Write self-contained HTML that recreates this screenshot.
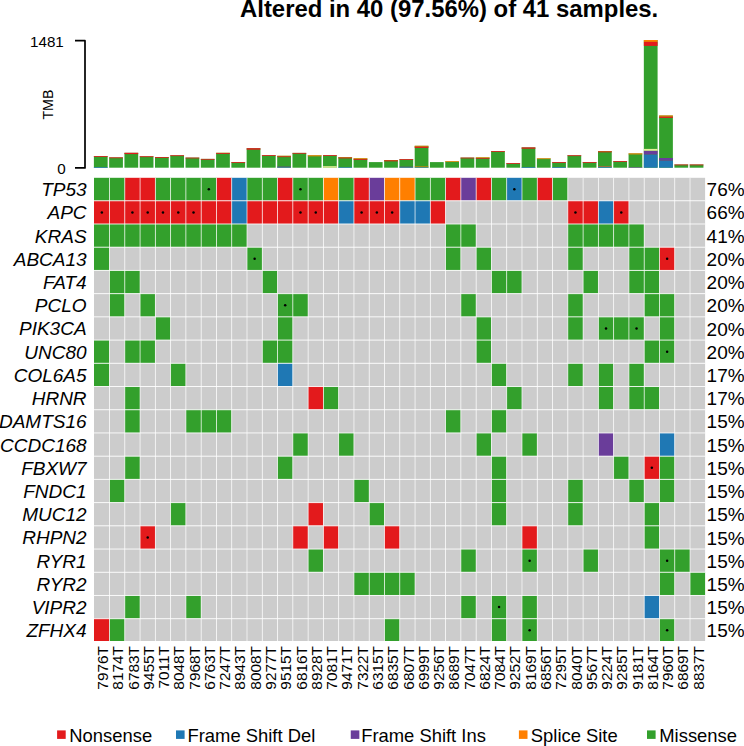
<!DOCTYPE html><html><head><meta charset="utf-8"><style>html,body{margin:0;padding:0;background:#fff;}body{width:744px;height:746px;overflow:hidden;position:relative;}svg{display:block;}text{font-family:"Liberation Sans",sans-serif;}</style></head><body>
<svg width="744" height="746" viewBox="0 0 744 746">
<text x="240" y="16.8" font-size="23.9" font-weight="bold" fill="#000">Altered in 40 (97.56%) of 41 samples.</text>
<path d="M75,40.7 H85 V167.9 H75" fill="none" stroke="#000" stroke-width="1.7" stroke-linejoin="round"/>
<text x="63.8" y="47.0" font-size="15.2" text-anchor="end">1481</text>
<text x="65.8" y="173.6" font-size="15.2" text-anchor="end">0</text>
<text transform="translate(53,104.6) rotate(-90)" font-size="14.2" text-anchor="middle">TMB</text>
<rect x="93.89" y="156.10" width="13.75" height="11.60" fill="#33a02c"/>
<rect x="93.89" y="156.10" width="13.75" height="0.80" fill="#e31a1c"/>
<rect x="93.89" y="167.00" width="13.75" height="0.70" fill="#1f78b4"/>
<rect x="109.16" y="157.40" width="13.75" height="10.30" fill="#33a02c"/>
<rect x="109.16" y="157.40" width="13.75" height="0.80" fill="#e31a1c"/>
<rect x="124.44" y="152.80" width="13.75" height="14.90" fill="#33a02c"/>
<rect x="124.44" y="152.80" width="13.75" height="1.30" fill="#e31a1c"/>
<rect x="139.71" y="156.30" width="13.75" height="11.40" fill="#33a02c"/>
<rect x="139.71" y="156.30" width="13.75" height="0.80" fill="#e31a1c"/>
<rect x="154.99" y="157.00" width="13.75" height="10.70" fill="#33a02c"/>
<rect x="154.99" y="157.00" width="13.75" height="0.80" fill="#e31a1c"/>
<rect x="170.27" y="155.30" width="13.75" height="12.40" fill="#33a02c"/>
<rect x="170.27" y="155.30" width="13.75" height="0.80" fill="#e31a1c"/>
<rect x="185.54" y="157.60" width="13.75" height="10.10" fill="#33a02c"/>
<rect x="185.54" y="157.60" width="13.75" height="0.80" fill="#e31a1c"/>
<rect x="200.82" y="158.90" width="13.75" height="8.80" fill="#33a02c"/>
<rect x="200.82" y="158.90" width="13.75" height="0.80" fill="#e31a1c"/>
<rect x="216.10" y="152.80" width="13.75" height="14.90" fill="#33a02c"/>
<rect x="216.10" y="152.80" width="13.75" height="0.40" fill="#ff7f00"/>
<rect x="216.10" y="153.20" width="13.75" height="0.80" fill="#e31a1c"/>
<rect x="231.37" y="162.10" width="13.75" height="5.60" fill="#33a02c"/>
<rect x="231.37" y="162.10" width="13.75" height="0.80" fill="#e31a1c"/>
<rect x="246.65" y="148.20" width="13.75" height="19.50" fill="#33a02c"/>
<rect x="246.65" y="148.20" width="13.75" height="1.50" fill="#e31a1c"/>
<rect x="261.93" y="155.20" width="13.75" height="12.50" fill="#33a02c"/>
<rect x="261.93" y="155.20" width="13.75" height="0.80" fill="#e31a1c"/>
<rect x="277.20" y="155.80" width="13.75" height="11.90" fill="#33a02c"/>
<rect x="277.20" y="155.80" width="13.75" height="0.60" fill="#ff7f00"/>
<rect x="277.20" y="156.40" width="13.75" height="0.70" fill="#e31a1c"/>
<rect x="277.20" y="167.20" width="13.75" height="0.50" fill="#1f78b4"/>
<rect x="277.20" y="166.60" width="13.75" height="0.60" fill="#6a3d9a"/>
<rect x="292.48" y="152.90" width="13.75" height="14.80" fill="#33a02c"/>
<rect x="292.48" y="152.90" width="13.75" height="0.80" fill="#e31a1c"/>
<rect x="307.76" y="155.30" width="13.75" height="12.40" fill="#33a02c"/>
<rect x="307.76" y="155.30" width="13.75" height="1.00" fill="#ff7f00"/>
<rect x="323.03" y="155.20" width="13.75" height="12.50" fill="#33a02c"/>
<rect x="323.03" y="155.20" width="13.75" height="0.80" fill="#e31a1c"/>
<rect x="323.03" y="166.20" width="13.75" height="1.50" fill="#e6ef9c"/>
<rect x="338.31" y="157.10" width="13.75" height="10.60" fill="#33a02c"/>
<rect x="338.31" y="157.10" width="13.75" height="0.50" fill="#ff7f00"/>
<rect x="338.31" y="157.60" width="13.75" height="0.80" fill="#e31a1c"/>
<rect x="338.31" y="167.10" width="13.75" height="0.60" fill="#1f78b4"/>
<rect x="353.59" y="158.30" width="13.75" height="9.40" fill="#33a02c"/>
<rect x="353.59" y="158.30" width="13.75" height="0.70" fill="#ff7f00"/>
<rect x="353.59" y="159.00" width="13.75" height="0.80" fill="#e31a1c"/>
<rect x="368.86" y="162.10" width="13.75" height="5.60" fill="#33a02c"/>
<rect x="384.14" y="160.00" width="13.75" height="7.70" fill="#33a02c"/>
<rect x="384.14" y="160.00" width="13.75" height="0.40" fill="#ff7f00"/>
<rect x="384.14" y="160.40" width="13.75" height="0.90" fill="#e31a1c"/>
<rect x="399.42" y="159.20" width="13.75" height="8.50" fill="#33a02c"/>
<rect x="399.42" y="159.20" width="13.75" height="0.80" fill="#e31a1c"/>
<rect x="399.42" y="167.20" width="13.75" height="0.50" fill="#1f78b4"/>
<rect x="399.42" y="166.70" width="13.75" height="0.50" fill="#6a3d9a"/>
<rect x="414.69" y="145.80" width="13.75" height="21.90" fill="#33a02c"/>
<rect x="414.69" y="145.80" width="13.75" height="0.90" fill="#ff7f00"/>
<rect x="414.69" y="146.70" width="13.75" height="1.20" fill="#e31a1c"/>
<rect x="414.69" y="167.10" width="13.75" height="0.60" fill="#1f78b4"/>
<rect x="414.69" y="166.50" width="13.75" height="0.60" fill="#ff7f00"/>
<rect x="429.97" y="162.10" width="13.75" height="5.60" fill="#33a02c"/>
<rect x="445.25" y="161.30" width="13.75" height="6.40" fill="#33a02c"/>
<rect x="445.25" y="161.30" width="13.75" height="0.70" fill="#ff7f00"/>
<rect x="460.52" y="157.60" width="13.75" height="10.10" fill="#33a02c"/>
<rect x="460.52" y="157.60" width="13.75" height="0.80" fill="#e31a1c"/>
<rect x="475.80" y="157.40" width="13.75" height="10.30" fill="#33a02c"/>
<rect x="475.80" y="157.40" width="13.75" height="0.60" fill="#ff7f00"/>
<rect x="475.80" y="158.00" width="13.75" height="0.70" fill="#e31a1c"/>
<rect x="491.08" y="151.10" width="13.75" height="16.60" fill="#33a02c"/>
<rect x="491.08" y="151.10" width="13.75" height="0.80" fill="#e31a1c"/>
<rect x="506.35" y="163.20" width="13.75" height="4.50" fill="#33a02c"/>
<rect x="506.35" y="163.20" width="13.75" height="0.80" fill="#e31a1c"/>
<rect x="521.63" y="147.40" width="13.75" height="20.30" fill="#33a02c"/>
<rect x="521.63" y="147.40" width="13.75" height="1.30" fill="#e31a1c"/>
<rect x="521.63" y="167.00" width="13.75" height="0.70" fill="#1f78b4"/>
<rect x="536.91" y="158.40" width="13.75" height="9.30" fill="#33a02c"/>
<rect x="536.91" y="158.40" width="13.75" height="0.70" fill="#ff7f00"/>
<rect x="552.18" y="162.10" width="13.75" height="5.60" fill="#33a02c"/>
<rect x="552.18" y="162.10" width="13.75" height="0.80" fill="#e31a1c"/>
<rect x="552.18" y="167.00" width="13.75" height="0.70" fill="#1f78b4"/>
<rect x="567.46" y="155.30" width="13.75" height="12.40" fill="#33a02c"/>
<rect x="567.46" y="155.30" width="13.75" height="0.80" fill="#e31a1c"/>
<rect x="582.74" y="162.10" width="13.75" height="5.60" fill="#33a02c"/>
<rect x="582.74" y="162.10" width="13.75" height="0.80" fill="#e31a1c"/>
<rect x="598.01" y="151.00" width="13.75" height="16.70" fill="#33a02c"/>
<rect x="598.01" y="151.00" width="13.75" height="0.50" fill="#ff7f00"/>
<rect x="598.01" y="151.50" width="13.75" height="0.80" fill="#e31a1c"/>
<rect x="598.01" y="167.00" width="13.75" height="0.70" fill="#1f78b4"/>
<rect x="598.01" y="166.50" width="13.75" height="0.50" fill="#6a3d9a"/>
<rect x="598.01" y="166.10" width="13.75" height="0.40" fill="#ff7f00"/>
<rect x="613.29" y="161.10" width="13.75" height="6.60" fill="#33a02c"/>
<rect x="613.29" y="161.10" width="13.75" height="0.80" fill="#e31a1c"/>
<rect x="628.57" y="153.40" width="13.75" height="14.30" fill="#33a02c"/>
<rect x="628.57" y="153.40" width="13.75" height="1.00" fill="#ff7f00"/>
<rect x="628.57" y="167.20" width="13.75" height="0.50" fill="#6a3d9a"/>
<rect x="643.84" y="40.00" width="13.75" height="127.70" fill="#33a02c"/>
<rect x="643.84" y="40.00" width="13.75" height="1.90" fill="#ff7f00"/>
<rect x="643.84" y="41.90" width="13.75" height="4.00" fill="#e31a1c"/>
<rect x="643.84" y="154.50" width="13.75" height="13.20" fill="#1f78b4"/>
<rect x="643.84" y="150.75" width="13.75" height="3.75" fill="#6a3d9a"/>
<rect x="643.84" y="148.90" width="13.75" height="1.85" fill="#e6ef9c"/>
<rect x="659.12" y="115.50" width="13.75" height="52.20" fill="#33a02c"/>
<rect x="659.12" y="115.50" width="13.75" height="1.20" fill="#ff7f00"/>
<rect x="659.12" y="116.70" width="13.75" height="1.20" fill="#e31a1c"/>
<rect x="659.12" y="160.70" width="13.75" height="7.00" fill="#1f78b4"/>
<rect x="659.12" y="158.00" width="13.75" height="2.70" fill="#6a3d9a"/>
<rect x="674.40" y="164.50" width="13.75" height="3.20" fill="#33a02c"/>
<rect x="674.40" y="164.50" width="13.75" height="0.80" fill="#e31a1c"/>
<rect x="689.67" y="164.50" width="13.75" height="3.20" fill="#33a02c"/>
<rect x="689.67" y="164.50" width="13.75" height="0.80" fill="#e31a1c"/>
<rect x="94.00" y="177.80" width="15.51" height="22.97" fill="#33a02c"/>
<rect x="109.51" y="177.80" width="15.28" height="22.97" fill="#33a02c"/>
<rect x="124.79" y="177.80" width="15.28" height="22.97" fill="#e31a1c"/>
<rect x="140.06" y="177.80" width="15.28" height="22.97" fill="#e31a1c"/>
<rect x="155.34" y="177.80" width="15.28" height="22.97" fill="#33a02c"/>
<rect x="170.62" y="177.80" width="15.28" height="22.97" fill="#33a02c"/>
<rect x="185.89" y="177.80" width="15.28" height="22.97" fill="#33a02c"/>
<rect x="201.17" y="177.80" width="15.28" height="22.97" fill="#33a02c"/>
<rect x="216.45" y="177.80" width="15.28" height="22.97" fill="#e31a1c"/>
<rect x="231.72" y="177.80" width="15.28" height="22.97" fill="#1f78b4"/>
<rect x="247.00" y="177.80" width="15.28" height="22.97" fill="#33a02c"/>
<rect x="262.28" y="177.80" width="15.28" height="22.97" fill="#33a02c"/>
<rect x="277.55" y="177.80" width="15.28" height="22.97" fill="#e31a1c"/>
<rect x="292.83" y="177.80" width="15.28" height="22.97" fill="#33a02c"/>
<rect x="308.11" y="177.80" width="15.28" height="22.97" fill="#33a02c"/>
<rect x="323.38" y="177.80" width="15.28" height="22.97" fill="#ff7f00"/>
<rect x="338.66" y="177.80" width="15.28" height="22.97" fill="#33a02c"/>
<rect x="353.94" y="177.80" width="15.28" height="22.97" fill="#e31a1c"/>
<rect x="369.21" y="177.80" width="15.28" height="22.97" fill="#6a3d9a"/>
<rect x="384.49" y="177.80" width="15.28" height="22.97" fill="#ff7f00"/>
<rect x="399.77" y="177.80" width="15.28" height="22.97" fill="#ff7f00"/>
<rect x="415.04" y="177.80" width="15.28" height="22.97" fill="#33a02c"/>
<rect x="430.32" y="177.80" width="15.28" height="22.97" fill="#33a02c"/>
<rect x="445.60" y="177.80" width="15.28" height="22.97" fill="#e31a1c"/>
<rect x="460.87" y="177.80" width="15.28" height="22.97" fill="#6a3d9a"/>
<rect x="476.15" y="177.80" width="15.28" height="22.97" fill="#e31a1c"/>
<rect x="491.43" y="177.80" width="15.28" height="22.97" fill="#33a02c"/>
<rect x="506.70" y="177.80" width="15.28" height="22.97" fill="#1f78b4"/>
<rect x="521.98" y="177.80" width="15.28" height="22.97" fill="#33a02c"/>
<rect x="537.26" y="177.80" width="15.28" height="22.97" fill="#e31a1c"/>
<rect x="552.53" y="177.80" width="15.28" height="22.97" fill="#33a02c"/>
<rect x="567.81" y="177.80" width="15.28" height="22.97" fill="#cccccc"/>
<rect x="583.09" y="177.80" width="15.28" height="22.97" fill="#cccccc"/>
<rect x="598.36" y="177.80" width="15.28" height="22.97" fill="#cccccc"/>
<rect x="613.64" y="177.80" width="15.28" height="22.97" fill="#cccccc"/>
<rect x="628.92" y="177.80" width="15.28" height="22.97" fill="#cccccc"/>
<rect x="644.19" y="177.80" width="15.28" height="22.97" fill="#cccccc"/>
<rect x="659.47" y="177.80" width="15.28" height="22.97" fill="#cccccc"/>
<rect x="674.75" y="177.80" width="15.28" height="22.97" fill="#cccccc"/>
<rect x="690.02" y="177.80" width="15.08" height="22.97" fill="#cccccc"/>
<rect x="94.00" y="200.77" width="15.51" height="23.22" fill="#e31a1c"/>
<rect x="109.51" y="200.77" width="15.28" height="23.22" fill="#e31a1c"/>
<rect x="124.79" y="200.77" width="15.28" height="23.22" fill="#e31a1c"/>
<rect x="140.06" y="200.77" width="15.28" height="23.22" fill="#e31a1c"/>
<rect x="155.34" y="200.77" width="15.28" height="23.22" fill="#e31a1c"/>
<rect x="170.62" y="200.77" width="15.28" height="23.22" fill="#e31a1c"/>
<rect x="185.89" y="200.77" width="15.28" height="23.22" fill="#e31a1c"/>
<rect x="201.17" y="200.77" width="15.28" height="23.22" fill="#e31a1c"/>
<rect x="216.45" y="200.77" width="15.28" height="23.22" fill="#e31a1c"/>
<rect x="231.72" y="200.77" width="15.28" height="23.22" fill="#1f78b4"/>
<rect x="247.00" y="200.77" width="15.28" height="23.22" fill="#e31a1c"/>
<rect x="262.28" y="200.77" width="15.28" height="23.22" fill="#e31a1c"/>
<rect x="277.55" y="200.77" width="15.28" height="23.22" fill="#e31a1c"/>
<rect x="292.83" y="200.77" width="15.28" height="23.22" fill="#e31a1c"/>
<rect x="308.11" y="200.77" width="15.28" height="23.22" fill="#e31a1c"/>
<rect x="323.38" y="200.77" width="15.28" height="23.22" fill="#e31a1c"/>
<rect x="338.66" y="200.77" width="15.28" height="23.22" fill="#1f78b4"/>
<rect x="353.94" y="200.77" width="15.28" height="23.22" fill="#e31a1c"/>
<rect x="369.21" y="200.77" width="15.28" height="23.22" fill="#e31a1c"/>
<rect x="384.49" y="200.77" width="15.28" height="23.22" fill="#e31a1c"/>
<rect x="399.77" y="200.77" width="15.28" height="23.22" fill="#1f78b4"/>
<rect x="415.04" y="200.77" width="15.28" height="23.22" fill="#1f78b4"/>
<rect x="430.32" y="200.77" width="15.28" height="23.22" fill="#e31a1c"/>
<rect x="445.60" y="200.77" width="15.28" height="23.22" fill="#cccccc"/>
<rect x="460.87" y="200.77" width="15.28" height="23.22" fill="#cccccc"/>
<rect x="476.15" y="200.77" width="15.28" height="23.22" fill="#cccccc"/>
<rect x="491.43" y="200.77" width="15.28" height="23.22" fill="#cccccc"/>
<rect x="506.70" y="200.77" width="15.28" height="23.22" fill="#cccccc"/>
<rect x="521.98" y="200.77" width="15.28" height="23.22" fill="#cccccc"/>
<rect x="537.26" y="200.77" width="15.28" height="23.22" fill="#cccccc"/>
<rect x="552.53" y="200.77" width="15.28" height="23.22" fill="#cccccc"/>
<rect x="567.81" y="200.77" width="15.28" height="23.22" fill="#e31a1c"/>
<rect x="583.09" y="200.77" width="15.28" height="23.22" fill="#e31a1c"/>
<rect x="598.36" y="200.77" width="15.28" height="23.22" fill="#1f78b4"/>
<rect x="613.64" y="200.77" width="15.28" height="23.22" fill="#e31a1c"/>
<rect x="628.92" y="200.77" width="15.28" height="23.22" fill="#cccccc"/>
<rect x="644.19" y="200.77" width="15.28" height="23.22" fill="#cccccc"/>
<rect x="659.47" y="200.77" width="15.28" height="23.22" fill="#cccccc"/>
<rect x="674.75" y="200.77" width="15.28" height="23.22" fill="#cccccc"/>
<rect x="690.02" y="200.77" width="15.08" height="23.22" fill="#cccccc"/>
<rect x="94.00" y="223.99" width="15.51" height="23.22" fill="#33a02c"/>
<rect x="109.51" y="223.99" width="15.28" height="23.22" fill="#33a02c"/>
<rect x="124.79" y="223.99" width="15.28" height="23.22" fill="#33a02c"/>
<rect x="140.06" y="223.99" width="15.28" height="23.22" fill="#33a02c"/>
<rect x="155.34" y="223.99" width="15.28" height="23.22" fill="#33a02c"/>
<rect x="170.62" y="223.99" width="15.28" height="23.22" fill="#33a02c"/>
<rect x="185.89" y="223.99" width="15.28" height="23.22" fill="#33a02c"/>
<rect x="201.17" y="223.99" width="15.28" height="23.22" fill="#33a02c"/>
<rect x="216.45" y="223.99" width="15.28" height="23.22" fill="#33a02c"/>
<rect x="231.72" y="223.99" width="15.28" height="23.22" fill="#33a02c"/>
<rect x="247.00" y="223.99" width="15.28" height="23.22" fill="#cccccc"/>
<rect x="262.28" y="223.99" width="15.28" height="23.22" fill="#cccccc"/>
<rect x="277.55" y="223.99" width="15.28" height="23.22" fill="#cccccc"/>
<rect x="292.83" y="223.99" width="15.28" height="23.22" fill="#cccccc"/>
<rect x="308.11" y="223.99" width="15.28" height="23.22" fill="#cccccc"/>
<rect x="323.38" y="223.99" width="15.28" height="23.22" fill="#cccccc"/>
<rect x="338.66" y="223.99" width="15.28" height="23.22" fill="#cccccc"/>
<rect x="353.94" y="223.99" width="15.28" height="23.22" fill="#cccccc"/>
<rect x="369.21" y="223.99" width="15.28" height="23.22" fill="#cccccc"/>
<rect x="384.49" y="223.99" width="15.28" height="23.22" fill="#cccccc"/>
<rect x="399.77" y="223.99" width="15.28" height="23.22" fill="#cccccc"/>
<rect x="415.04" y="223.99" width="15.28" height="23.22" fill="#cccccc"/>
<rect x="430.32" y="223.99" width="15.28" height="23.22" fill="#cccccc"/>
<rect x="445.60" y="223.99" width="15.28" height="23.22" fill="#33a02c"/>
<rect x="460.87" y="223.99" width="15.28" height="23.22" fill="#33a02c"/>
<rect x="476.15" y="223.99" width="15.28" height="23.22" fill="#cccccc"/>
<rect x="491.43" y="223.99" width="15.28" height="23.22" fill="#cccccc"/>
<rect x="506.70" y="223.99" width="15.28" height="23.22" fill="#cccccc"/>
<rect x="521.98" y="223.99" width="15.28" height="23.22" fill="#cccccc"/>
<rect x="537.26" y="223.99" width="15.28" height="23.22" fill="#cccccc"/>
<rect x="552.53" y="223.99" width="15.28" height="23.22" fill="#cccccc"/>
<rect x="567.81" y="223.99" width="15.28" height="23.22" fill="#33a02c"/>
<rect x="583.09" y="223.99" width="15.28" height="23.22" fill="#33a02c"/>
<rect x="598.36" y="223.99" width="15.28" height="23.22" fill="#33a02c"/>
<rect x="613.64" y="223.99" width="15.28" height="23.22" fill="#33a02c"/>
<rect x="628.92" y="223.99" width="15.28" height="23.22" fill="#33a02c"/>
<rect x="644.19" y="223.99" width="15.28" height="23.22" fill="#cccccc"/>
<rect x="659.47" y="223.99" width="15.28" height="23.22" fill="#cccccc"/>
<rect x="674.75" y="223.99" width="15.28" height="23.22" fill="#cccccc"/>
<rect x="690.02" y="223.99" width="15.08" height="23.22" fill="#cccccc"/>
<rect x="94.00" y="247.20" width="15.51" height="23.22" fill="#33a02c"/>
<rect x="109.51" y="247.20" width="15.28" height="23.22" fill="#cccccc"/>
<rect x="124.79" y="247.20" width="15.28" height="23.22" fill="#cccccc"/>
<rect x="140.06" y="247.20" width="15.28" height="23.22" fill="#cccccc"/>
<rect x="155.34" y="247.20" width="15.28" height="23.22" fill="#cccccc"/>
<rect x="170.62" y="247.20" width="15.28" height="23.22" fill="#cccccc"/>
<rect x="185.89" y="247.20" width="15.28" height="23.22" fill="#cccccc"/>
<rect x="201.17" y="247.20" width="15.28" height="23.22" fill="#cccccc"/>
<rect x="216.45" y="247.20" width="15.28" height="23.22" fill="#cccccc"/>
<rect x="231.72" y="247.20" width="15.28" height="23.22" fill="#cccccc"/>
<rect x="247.00" y="247.20" width="15.28" height="23.22" fill="#33a02c"/>
<rect x="262.28" y="247.20" width="15.28" height="23.22" fill="#cccccc"/>
<rect x="277.55" y="247.20" width="15.28" height="23.22" fill="#cccccc"/>
<rect x="292.83" y="247.20" width="15.28" height="23.22" fill="#cccccc"/>
<rect x="308.11" y="247.20" width="15.28" height="23.22" fill="#cccccc"/>
<rect x="323.38" y="247.20" width="15.28" height="23.22" fill="#cccccc"/>
<rect x="338.66" y="247.20" width="15.28" height="23.22" fill="#cccccc"/>
<rect x="353.94" y="247.20" width="15.28" height="23.22" fill="#cccccc"/>
<rect x="369.21" y="247.20" width="15.28" height="23.22" fill="#cccccc"/>
<rect x="384.49" y="247.20" width="15.28" height="23.22" fill="#cccccc"/>
<rect x="399.77" y="247.20" width="15.28" height="23.22" fill="#cccccc"/>
<rect x="415.04" y="247.20" width="15.28" height="23.22" fill="#cccccc"/>
<rect x="430.32" y="247.20" width="15.28" height="23.22" fill="#cccccc"/>
<rect x="445.60" y="247.20" width="15.28" height="23.22" fill="#33a02c"/>
<rect x="460.87" y="247.20" width="15.28" height="23.22" fill="#cccccc"/>
<rect x="476.15" y="247.20" width="15.28" height="23.22" fill="#33a02c"/>
<rect x="491.43" y="247.20" width="15.28" height="23.22" fill="#cccccc"/>
<rect x="506.70" y="247.20" width="15.28" height="23.22" fill="#cccccc"/>
<rect x="521.98" y="247.20" width="15.28" height="23.22" fill="#cccccc"/>
<rect x="537.26" y="247.20" width="15.28" height="23.22" fill="#cccccc"/>
<rect x="552.53" y="247.20" width="15.28" height="23.22" fill="#cccccc"/>
<rect x="567.81" y="247.20" width="15.28" height="23.22" fill="#33a02c"/>
<rect x="583.09" y="247.20" width="15.28" height="23.22" fill="#cccccc"/>
<rect x="598.36" y="247.20" width="15.28" height="23.22" fill="#cccccc"/>
<rect x="613.64" y="247.20" width="15.28" height="23.22" fill="#cccccc"/>
<rect x="628.92" y="247.20" width="15.28" height="23.22" fill="#33a02c"/>
<rect x="644.19" y="247.20" width="15.28" height="23.22" fill="#33a02c"/>
<rect x="659.47" y="247.20" width="15.28" height="23.22" fill="#e31a1c"/>
<rect x="674.75" y="247.20" width="15.28" height="23.22" fill="#cccccc"/>
<rect x="690.02" y="247.20" width="15.08" height="23.22" fill="#cccccc"/>
<rect x="94.00" y="270.42" width="15.51" height="23.22" fill="#cccccc"/>
<rect x="109.51" y="270.42" width="15.28" height="23.22" fill="#33a02c"/>
<rect x="124.79" y="270.42" width="15.28" height="23.22" fill="#33a02c"/>
<rect x="140.06" y="270.42" width="15.28" height="23.22" fill="#cccccc"/>
<rect x="155.34" y="270.42" width="15.28" height="23.22" fill="#cccccc"/>
<rect x="170.62" y="270.42" width="15.28" height="23.22" fill="#cccccc"/>
<rect x="185.89" y="270.42" width="15.28" height="23.22" fill="#cccccc"/>
<rect x="201.17" y="270.42" width="15.28" height="23.22" fill="#cccccc"/>
<rect x="216.45" y="270.42" width="15.28" height="23.22" fill="#cccccc"/>
<rect x="231.72" y="270.42" width="15.28" height="23.22" fill="#cccccc"/>
<rect x="247.00" y="270.42" width="15.28" height="23.22" fill="#cccccc"/>
<rect x="262.28" y="270.42" width="15.28" height="23.22" fill="#33a02c"/>
<rect x="277.55" y="270.42" width="15.28" height="23.22" fill="#cccccc"/>
<rect x="292.83" y="270.42" width="15.28" height="23.22" fill="#cccccc"/>
<rect x="308.11" y="270.42" width="15.28" height="23.22" fill="#cccccc"/>
<rect x="323.38" y="270.42" width="15.28" height="23.22" fill="#cccccc"/>
<rect x="338.66" y="270.42" width="15.28" height="23.22" fill="#cccccc"/>
<rect x="353.94" y="270.42" width="15.28" height="23.22" fill="#cccccc"/>
<rect x="369.21" y="270.42" width="15.28" height="23.22" fill="#cccccc"/>
<rect x="384.49" y="270.42" width="15.28" height="23.22" fill="#cccccc"/>
<rect x="399.77" y="270.42" width="15.28" height="23.22" fill="#cccccc"/>
<rect x="415.04" y="270.42" width="15.28" height="23.22" fill="#cccccc"/>
<rect x="430.32" y="270.42" width="15.28" height="23.22" fill="#cccccc"/>
<rect x="445.60" y="270.42" width="15.28" height="23.22" fill="#cccccc"/>
<rect x="460.87" y="270.42" width="15.28" height="23.22" fill="#cccccc"/>
<rect x="476.15" y="270.42" width="15.28" height="23.22" fill="#cccccc"/>
<rect x="491.43" y="270.42" width="15.28" height="23.22" fill="#33a02c"/>
<rect x="506.70" y="270.42" width="15.28" height="23.22" fill="#33a02c"/>
<rect x="521.98" y="270.42" width="15.28" height="23.22" fill="#cccccc"/>
<rect x="537.26" y="270.42" width="15.28" height="23.22" fill="#cccccc"/>
<rect x="552.53" y="270.42" width="15.28" height="23.22" fill="#cccccc"/>
<rect x="567.81" y="270.42" width="15.28" height="23.22" fill="#cccccc"/>
<rect x="583.09" y="270.42" width="15.28" height="23.22" fill="#33a02c"/>
<rect x="598.36" y="270.42" width="15.28" height="23.22" fill="#cccccc"/>
<rect x="613.64" y="270.42" width="15.28" height="23.22" fill="#cccccc"/>
<rect x="628.92" y="270.42" width="15.28" height="23.22" fill="#33a02c"/>
<rect x="644.19" y="270.42" width="15.28" height="23.22" fill="#33a02c"/>
<rect x="659.47" y="270.42" width="15.28" height="23.22" fill="#cccccc"/>
<rect x="674.75" y="270.42" width="15.28" height="23.22" fill="#cccccc"/>
<rect x="690.02" y="270.42" width="15.08" height="23.22" fill="#cccccc"/>
<rect x="94.00" y="293.64" width="15.51" height="23.22" fill="#cccccc"/>
<rect x="109.51" y="293.64" width="15.28" height="23.22" fill="#33a02c"/>
<rect x="124.79" y="293.64" width="15.28" height="23.22" fill="#cccccc"/>
<rect x="140.06" y="293.64" width="15.28" height="23.22" fill="#33a02c"/>
<rect x="155.34" y="293.64" width="15.28" height="23.22" fill="#cccccc"/>
<rect x="170.62" y="293.64" width="15.28" height="23.22" fill="#cccccc"/>
<rect x="185.89" y="293.64" width="15.28" height="23.22" fill="#cccccc"/>
<rect x="201.17" y="293.64" width="15.28" height="23.22" fill="#cccccc"/>
<rect x="216.45" y="293.64" width="15.28" height="23.22" fill="#cccccc"/>
<rect x="231.72" y="293.64" width="15.28" height="23.22" fill="#cccccc"/>
<rect x="247.00" y="293.64" width="15.28" height="23.22" fill="#cccccc"/>
<rect x="262.28" y="293.64" width="15.28" height="23.22" fill="#cccccc"/>
<rect x="277.55" y="293.64" width="15.28" height="23.22" fill="#33a02c"/>
<rect x="292.83" y="293.64" width="15.28" height="23.22" fill="#33a02c"/>
<rect x="308.11" y="293.64" width="15.28" height="23.22" fill="#cccccc"/>
<rect x="323.38" y="293.64" width="15.28" height="23.22" fill="#cccccc"/>
<rect x="338.66" y="293.64" width="15.28" height="23.22" fill="#cccccc"/>
<rect x="353.94" y="293.64" width="15.28" height="23.22" fill="#cccccc"/>
<rect x="369.21" y="293.64" width="15.28" height="23.22" fill="#cccccc"/>
<rect x="384.49" y="293.64" width="15.28" height="23.22" fill="#cccccc"/>
<rect x="399.77" y="293.64" width="15.28" height="23.22" fill="#cccccc"/>
<rect x="415.04" y="293.64" width="15.28" height="23.22" fill="#cccccc"/>
<rect x="430.32" y="293.64" width="15.28" height="23.22" fill="#cccccc"/>
<rect x="445.60" y="293.64" width="15.28" height="23.22" fill="#cccccc"/>
<rect x="460.87" y="293.64" width="15.28" height="23.22" fill="#33a02c"/>
<rect x="476.15" y="293.64" width="15.28" height="23.22" fill="#cccccc"/>
<rect x="491.43" y="293.64" width="15.28" height="23.22" fill="#cccccc"/>
<rect x="506.70" y="293.64" width="15.28" height="23.22" fill="#cccccc"/>
<rect x="521.98" y="293.64" width="15.28" height="23.22" fill="#cccccc"/>
<rect x="537.26" y="293.64" width="15.28" height="23.22" fill="#cccccc"/>
<rect x="552.53" y="293.64" width="15.28" height="23.22" fill="#cccccc"/>
<rect x="567.81" y="293.64" width="15.28" height="23.22" fill="#33a02c"/>
<rect x="583.09" y="293.64" width="15.28" height="23.22" fill="#cccccc"/>
<rect x="598.36" y="293.64" width="15.28" height="23.22" fill="#cccccc"/>
<rect x="613.64" y="293.64" width="15.28" height="23.22" fill="#cccccc"/>
<rect x="628.92" y="293.64" width="15.28" height="23.22" fill="#cccccc"/>
<rect x="644.19" y="293.64" width="15.28" height="23.22" fill="#33a02c"/>
<rect x="659.47" y="293.64" width="15.28" height="23.22" fill="#33a02c"/>
<rect x="674.75" y="293.64" width="15.28" height="23.22" fill="#cccccc"/>
<rect x="690.02" y="293.64" width="15.08" height="23.22" fill="#cccccc"/>
<rect x="94.00" y="316.86" width="15.51" height="23.22" fill="#cccccc"/>
<rect x="109.51" y="316.86" width="15.28" height="23.22" fill="#cccccc"/>
<rect x="124.79" y="316.86" width="15.28" height="23.22" fill="#cccccc"/>
<rect x="140.06" y="316.86" width="15.28" height="23.22" fill="#cccccc"/>
<rect x="155.34" y="316.86" width="15.28" height="23.22" fill="#33a02c"/>
<rect x="170.62" y="316.86" width="15.28" height="23.22" fill="#cccccc"/>
<rect x="185.89" y="316.86" width="15.28" height="23.22" fill="#cccccc"/>
<rect x="201.17" y="316.86" width="15.28" height="23.22" fill="#cccccc"/>
<rect x="216.45" y="316.86" width="15.28" height="23.22" fill="#cccccc"/>
<rect x="231.72" y="316.86" width="15.28" height="23.22" fill="#cccccc"/>
<rect x="247.00" y="316.86" width="15.28" height="23.22" fill="#cccccc"/>
<rect x="262.28" y="316.86" width="15.28" height="23.22" fill="#cccccc"/>
<rect x="277.55" y="316.86" width="15.28" height="23.22" fill="#33a02c"/>
<rect x="292.83" y="316.86" width="15.28" height="23.22" fill="#cccccc"/>
<rect x="308.11" y="316.86" width="15.28" height="23.22" fill="#cccccc"/>
<rect x="323.38" y="316.86" width="15.28" height="23.22" fill="#cccccc"/>
<rect x="338.66" y="316.86" width="15.28" height="23.22" fill="#cccccc"/>
<rect x="353.94" y="316.86" width="15.28" height="23.22" fill="#cccccc"/>
<rect x="369.21" y="316.86" width="15.28" height="23.22" fill="#cccccc"/>
<rect x="384.49" y="316.86" width="15.28" height="23.22" fill="#cccccc"/>
<rect x="399.77" y="316.86" width="15.28" height="23.22" fill="#cccccc"/>
<rect x="415.04" y="316.86" width="15.28" height="23.22" fill="#cccccc"/>
<rect x="430.32" y="316.86" width="15.28" height="23.22" fill="#cccccc"/>
<rect x="445.60" y="316.86" width="15.28" height="23.22" fill="#cccccc"/>
<rect x="460.87" y="316.86" width="15.28" height="23.22" fill="#cccccc"/>
<rect x="476.15" y="316.86" width="15.28" height="23.22" fill="#33a02c"/>
<rect x="491.43" y="316.86" width="15.28" height="23.22" fill="#cccccc"/>
<rect x="506.70" y="316.86" width="15.28" height="23.22" fill="#cccccc"/>
<rect x="521.98" y="316.86" width="15.28" height="23.22" fill="#cccccc"/>
<rect x="537.26" y="316.86" width="15.28" height="23.22" fill="#cccccc"/>
<rect x="552.53" y="316.86" width="15.28" height="23.22" fill="#cccccc"/>
<rect x="567.81" y="316.86" width="15.28" height="23.22" fill="#33a02c"/>
<rect x="583.09" y="316.86" width="15.28" height="23.22" fill="#cccccc"/>
<rect x="598.36" y="316.86" width="15.28" height="23.22" fill="#33a02c"/>
<rect x="613.64" y="316.86" width="15.28" height="23.22" fill="#33a02c"/>
<rect x="628.92" y="316.86" width="15.28" height="23.22" fill="#33a02c"/>
<rect x="644.19" y="316.86" width="15.28" height="23.22" fill="#cccccc"/>
<rect x="659.47" y="316.86" width="15.28" height="23.22" fill="#33a02c"/>
<rect x="674.75" y="316.86" width="15.28" height="23.22" fill="#cccccc"/>
<rect x="690.02" y="316.86" width="15.08" height="23.22" fill="#cccccc"/>
<rect x="94.00" y="340.08" width="15.51" height="23.22" fill="#33a02c"/>
<rect x="109.51" y="340.08" width="15.28" height="23.22" fill="#cccccc"/>
<rect x="124.79" y="340.08" width="15.28" height="23.22" fill="#33a02c"/>
<rect x="140.06" y="340.08" width="15.28" height="23.22" fill="#33a02c"/>
<rect x="155.34" y="340.08" width="15.28" height="23.22" fill="#cccccc"/>
<rect x="170.62" y="340.08" width="15.28" height="23.22" fill="#cccccc"/>
<rect x="185.89" y="340.08" width="15.28" height="23.22" fill="#cccccc"/>
<rect x="201.17" y="340.08" width="15.28" height="23.22" fill="#cccccc"/>
<rect x="216.45" y="340.08" width="15.28" height="23.22" fill="#cccccc"/>
<rect x="231.72" y="340.08" width="15.28" height="23.22" fill="#cccccc"/>
<rect x="247.00" y="340.08" width="15.28" height="23.22" fill="#cccccc"/>
<rect x="262.28" y="340.08" width="15.28" height="23.22" fill="#33a02c"/>
<rect x="277.55" y="340.08" width="15.28" height="23.22" fill="#33a02c"/>
<rect x="292.83" y="340.08" width="15.28" height="23.22" fill="#cccccc"/>
<rect x="308.11" y="340.08" width="15.28" height="23.22" fill="#cccccc"/>
<rect x="323.38" y="340.08" width="15.28" height="23.22" fill="#cccccc"/>
<rect x="338.66" y="340.08" width="15.28" height="23.22" fill="#cccccc"/>
<rect x="353.94" y="340.08" width="15.28" height="23.22" fill="#cccccc"/>
<rect x="369.21" y="340.08" width="15.28" height="23.22" fill="#cccccc"/>
<rect x="384.49" y="340.08" width="15.28" height="23.22" fill="#cccccc"/>
<rect x="399.77" y="340.08" width="15.28" height="23.22" fill="#cccccc"/>
<rect x="415.04" y="340.08" width="15.28" height="23.22" fill="#cccccc"/>
<rect x="430.32" y="340.08" width="15.28" height="23.22" fill="#cccccc"/>
<rect x="445.60" y="340.08" width="15.28" height="23.22" fill="#cccccc"/>
<rect x="460.87" y="340.08" width="15.28" height="23.22" fill="#cccccc"/>
<rect x="476.15" y="340.08" width="15.28" height="23.22" fill="#33a02c"/>
<rect x="491.43" y="340.08" width="15.28" height="23.22" fill="#cccccc"/>
<rect x="506.70" y="340.08" width="15.28" height="23.22" fill="#cccccc"/>
<rect x="521.98" y="340.08" width="15.28" height="23.22" fill="#cccccc"/>
<rect x="537.26" y="340.08" width="15.28" height="23.22" fill="#cccccc"/>
<rect x="552.53" y="340.08" width="15.28" height="23.22" fill="#cccccc"/>
<rect x="567.81" y="340.08" width="15.28" height="23.22" fill="#cccccc"/>
<rect x="583.09" y="340.08" width="15.28" height="23.22" fill="#cccccc"/>
<rect x="598.36" y="340.08" width="15.28" height="23.22" fill="#cccccc"/>
<rect x="613.64" y="340.08" width="15.28" height="23.22" fill="#cccccc"/>
<rect x="628.92" y="340.08" width="15.28" height="23.22" fill="#cccccc"/>
<rect x="644.19" y="340.08" width="15.28" height="23.22" fill="#33a02c"/>
<rect x="659.47" y="340.08" width="15.28" height="23.22" fill="#33a02c"/>
<rect x="674.75" y="340.08" width="15.28" height="23.22" fill="#cccccc"/>
<rect x="690.02" y="340.08" width="15.08" height="23.22" fill="#cccccc"/>
<rect x="94.00" y="363.29" width="15.51" height="23.22" fill="#33a02c"/>
<rect x="109.51" y="363.29" width="15.28" height="23.22" fill="#cccccc"/>
<rect x="124.79" y="363.29" width="15.28" height="23.22" fill="#cccccc"/>
<rect x="140.06" y="363.29" width="15.28" height="23.22" fill="#cccccc"/>
<rect x="155.34" y="363.29" width="15.28" height="23.22" fill="#cccccc"/>
<rect x="170.62" y="363.29" width="15.28" height="23.22" fill="#33a02c"/>
<rect x="185.89" y="363.29" width="15.28" height="23.22" fill="#cccccc"/>
<rect x="201.17" y="363.29" width="15.28" height="23.22" fill="#cccccc"/>
<rect x="216.45" y="363.29" width="15.28" height="23.22" fill="#cccccc"/>
<rect x="231.72" y="363.29" width="15.28" height="23.22" fill="#cccccc"/>
<rect x="247.00" y="363.29" width="15.28" height="23.22" fill="#cccccc"/>
<rect x="262.28" y="363.29" width="15.28" height="23.22" fill="#cccccc"/>
<rect x="277.55" y="363.29" width="15.28" height="23.22" fill="#1f78b4"/>
<rect x="292.83" y="363.29" width="15.28" height="23.22" fill="#cccccc"/>
<rect x="308.11" y="363.29" width="15.28" height="23.22" fill="#cccccc"/>
<rect x="323.38" y="363.29" width="15.28" height="23.22" fill="#cccccc"/>
<rect x="338.66" y="363.29" width="15.28" height="23.22" fill="#cccccc"/>
<rect x="353.94" y="363.29" width="15.28" height="23.22" fill="#cccccc"/>
<rect x="369.21" y="363.29" width="15.28" height="23.22" fill="#cccccc"/>
<rect x="384.49" y="363.29" width="15.28" height="23.22" fill="#cccccc"/>
<rect x="399.77" y="363.29" width="15.28" height="23.22" fill="#cccccc"/>
<rect x="415.04" y="363.29" width="15.28" height="23.22" fill="#cccccc"/>
<rect x="430.32" y="363.29" width="15.28" height="23.22" fill="#cccccc"/>
<rect x="445.60" y="363.29" width="15.28" height="23.22" fill="#cccccc"/>
<rect x="460.87" y="363.29" width="15.28" height="23.22" fill="#cccccc"/>
<rect x="476.15" y="363.29" width="15.28" height="23.22" fill="#cccccc"/>
<rect x="491.43" y="363.29" width="15.28" height="23.22" fill="#33a02c"/>
<rect x="506.70" y="363.29" width="15.28" height="23.22" fill="#cccccc"/>
<rect x="521.98" y="363.29" width="15.28" height="23.22" fill="#cccccc"/>
<rect x="537.26" y="363.29" width="15.28" height="23.22" fill="#cccccc"/>
<rect x="552.53" y="363.29" width="15.28" height="23.22" fill="#cccccc"/>
<rect x="567.81" y="363.29" width="15.28" height="23.22" fill="#33a02c"/>
<rect x="583.09" y="363.29" width="15.28" height="23.22" fill="#cccccc"/>
<rect x="598.36" y="363.29" width="15.28" height="23.22" fill="#33a02c"/>
<rect x="613.64" y="363.29" width="15.28" height="23.22" fill="#cccccc"/>
<rect x="628.92" y="363.29" width="15.28" height="23.22" fill="#33a02c"/>
<rect x="644.19" y="363.29" width="15.28" height="23.22" fill="#cccccc"/>
<rect x="659.47" y="363.29" width="15.28" height="23.22" fill="#cccccc"/>
<rect x="674.75" y="363.29" width="15.28" height="23.22" fill="#cccccc"/>
<rect x="690.02" y="363.29" width="15.08" height="23.22" fill="#cccccc"/>
<rect x="94.00" y="386.51" width="15.51" height="23.22" fill="#cccccc"/>
<rect x="109.51" y="386.51" width="15.28" height="23.22" fill="#cccccc"/>
<rect x="124.79" y="386.51" width="15.28" height="23.22" fill="#33a02c"/>
<rect x="140.06" y="386.51" width="15.28" height="23.22" fill="#cccccc"/>
<rect x="155.34" y="386.51" width="15.28" height="23.22" fill="#cccccc"/>
<rect x="170.62" y="386.51" width="15.28" height="23.22" fill="#cccccc"/>
<rect x="185.89" y="386.51" width="15.28" height="23.22" fill="#cccccc"/>
<rect x="201.17" y="386.51" width="15.28" height="23.22" fill="#cccccc"/>
<rect x="216.45" y="386.51" width="15.28" height="23.22" fill="#cccccc"/>
<rect x="231.72" y="386.51" width="15.28" height="23.22" fill="#cccccc"/>
<rect x="247.00" y="386.51" width="15.28" height="23.22" fill="#cccccc"/>
<rect x="262.28" y="386.51" width="15.28" height="23.22" fill="#cccccc"/>
<rect x="277.55" y="386.51" width="15.28" height="23.22" fill="#cccccc"/>
<rect x="292.83" y="386.51" width="15.28" height="23.22" fill="#cccccc"/>
<rect x="308.11" y="386.51" width="15.28" height="23.22" fill="#e31a1c"/>
<rect x="323.38" y="386.51" width="15.28" height="23.22" fill="#33a02c"/>
<rect x="338.66" y="386.51" width="15.28" height="23.22" fill="#cccccc"/>
<rect x="353.94" y="386.51" width="15.28" height="23.22" fill="#cccccc"/>
<rect x="369.21" y="386.51" width="15.28" height="23.22" fill="#cccccc"/>
<rect x="384.49" y="386.51" width="15.28" height="23.22" fill="#cccccc"/>
<rect x="399.77" y="386.51" width="15.28" height="23.22" fill="#cccccc"/>
<rect x="415.04" y="386.51" width="15.28" height="23.22" fill="#cccccc"/>
<rect x="430.32" y="386.51" width="15.28" height="23.22" fill="#cccccc"/>
<rect x="445.60" y="386.51" width="15.28" height="23.22" fill="#cccccc"/>
<rect x="460.87" y="386.51" width="15.28" height="23.22" fill="#cccccc"/>
<rect x="476.15" y="386.51" width="15.28" height="23.22" fill="#cccccc"/>
<rect x="491.43" y="386.51" width="15.28" height="23.22" fill="#cccccc"/>
<rect x="506.70" y="386.51" width="15.28" height="23.22" fill="#33a02c"/>
<rect x="521.98" y="386.51" width="15.28" height="23.22" fill="#cccccc"/>
<rect x="537.26" y="386.51" width="15.28" height="23.22" fill="#cccccc"/>
<rect x="552.53" y="386.51" width="15.28" height="23.22" fill="#cccccc"/>
<rect x="567.81" y="386.51" width="15.28" height="23.22" fill="#cccccc"/>
<rect x="583.09" y="386.51" width="15.28" height="23.22" fill="#cccccc"/>
<rect x="598.36" y="386.51" width="15.28" height="23.22" fill="#33a02c"/>
<rect x="613.64" y="386.51" width="15.28" height="23.22" fill="#cccccc"/>
<rect x="628.92" y="386.51" width="15.28" height="23.22" fill="#33a02c"/>
<rect x="644.19" y="386.51" width="15.28" height="23.22" fill="#33a02c"/>
<rect x="659.47" y="386.51" width="15.28" height="23.22" fill="#cccccc"/>
<rect x="674.75" y="386.51" width="15.28" height="23.22" fill="#cccccc"/>
<rect x="690.02" y="386.51" width="15.08" height="23.22" fill="#cccccc"/>
<rect x="94.00" y="409.73" width="15.51" height="23.22" fill="#cccccc"/>
<rect x="109.51" y="409.73" width="15.28" height="23.22" fill="#cccccc"/>
<rect x="124.79" y="409.73" width="15.28" height="23.22" fill="#33a02c"/>
<rect x="140.06" y="409.73" width="15.28" height="23.22" fill="#cccccc"/>
<rect x="155.34" y="409.73" width="15.28" height="23.22" fill="#cccccc"/>
<rect x="170.62" y="409.73" width="15.28" height="23.22" fill="#cccccc"/>
<rect x="185.89" y="409.73" width="15.28" height="23.22" fill="#33a02c"/>
<rect x="201.17" y="409.73" width="15.28" height="23.22" fill="#33a02c"/>
<rect x="216.45" y="409.73" width="15.28" height="23.22" fill="#33a02c"/>
<rect x="231.72" y="409.73" width="15.28" height="23.22" fill="#cccccc"/>
<rect x="247.00" y="409.73" width="15.28" height="23.22" fill="#cccccc"/>
<rect x="262.28" y="409.73" width="15.28" height="23.22" fill="#cccccc"/>
<rect x="277.55" y="409.73" width="15.28" height="23.22" fill="#cccccc"/>
<rect x="292.83" y="409.73" width="15.28" height="23.22" fill="#cccccc"/>
<rect x="308.11" y="409.73" width="15.28" height="23.22" fill="#cccccc"/>
<rect x="323.38" y="409.73" width="15.28" height="23.22" fill="#cccccc"/>
<rect x="338.66" y="409.73" width="15.28" height="23.22" fill="#cccccc"/>
<rect x="353.94" y="409.73" width="15.28" height="23.22" fill="#cccccc"/>
<rect x="369.21" y="409.73" width="15.28" height="23.22" fill="#cccccc"/>
<rect x="384.49" y="409.73" width="15.28" height="23.22" fill="#cccccc"/>
<rect x="399.77" y="409.73" width="15.28" height="23.22" fill="#cccccc"/>
<rect x="415.04" y="409.73" width="15.28" height="23.22" fill="#cccccc"/>
<rect x="430.32" y="409.73" width="15.28" height="23.22" fill="#cccccc"/>
<rect x="445.60" y="409.73" width="15.28" height="23.22" fill="#33a02c"/>
<rect x="460.87" y="409.73" width="15.28" height="23.22" fill="#cccccc"/>
<rect x="476.15" y="409.73" width="15.28" height="23.22" fill="#cccccc"/>
<rect x="491.43" y="409.73" width="15.28" height="23.22" fill="#33a02c"/>
<rect x="506.70" y="409.73" width="15.28" height="23.22" fill="#cccccc"/>
<rect x="521.98" y="409.73" width="15.28" height="23.22" fill="#cccccc"/>
<rect x="537.26" y="409.73" width="15.28" height="23.22" fill="#cccccc"/>
<rect x="552.53" y="409.73" width="15.28" height="23.22" fill="#cccccc"/>
<rect x="567.81" y="409.73" width="15.28" height="23.22" fill="#cccccc"/>
<rect x="583.09" y="409.73" width="15.28" height="23.22" fill="#cccccc"/>
<rect x="598.36" y="409.73" width="15.28" height="23.22" fill="#cccccc"/>
<rect x="613.64" y="409.73" width="15.28" height="23.22" fill="#cccccc"/>
<rect x="628.92" y="409.73" width="15.28" height="23.22" fill="#cccccc"/>
<rect x="644.19" y="409.73" width="15.28" height="23.22" fill="#cccccc"/>
<rect x="659.47" y="409.73" width="15.28" height="23.22" fill="#cccccc"/>
<rect x="674.75" y="409.73" width="15.28" height="23.22" fill="#cccccc"/>
<rect x="690.02" y="409.73" width="15.08" height="23.22" fill="#cccccc"/>
<rect x="94.00" y="432.95" width="15.51" height="23.22" fill="#cccccc"/>
<rect x="109.51" y="432.95" width="15.28" height="23.22" fill="#cccccc"/>
<rect x="124.79" y="432.95" width="15.28" height="23.22" fill="#cccccc"/>
<rect x="140.06" y="432.95" width="15.28" height="23.22" fill="#cccccc"/>
<rect x="155.34" y="432.95" width="15.28" height="23.22" fill="#cccccc"/>
<rect x="170.62" y="432.95" width="15.28" height="23.22" fill="#cccccc"/>
<rect x="185.89" y="432.95" width="15.28" height="23.22" fill="#cccccc"/>
<rect x="201.17" y="432.95" width="15.28" height="23.22" fill="#cccccc"/>
<rect x="216.45" y="432.95" width="15.28" height="23.22" fill="#cccccc"/>
<rect x="231.72" y="432.95" width="15.28" height="23.22" fill="#cccccc"/>
<rect x="247.00" y="432.95" width="15.28" height="23.22" fill="#cccccc"/>
<rect x="262.28" y="432.95" width="15.28" height="23.22" fill="#cccccc"/>
<rect x="277.55" y="432.95" width="15.28" height="23.22" fill="#cccccc"/>
<rect x="292.83" y="432.95" width="15.28" height="23.22" fill="#33a02c"/>
<rect x="308.11" y="432.95" width="15.28" height="23.22" fill="#cccccc"/>
<rect x="323.38" y="432.95" width="15.28" height="23.22" fill="#cccccc"/>
<rect x="338.66" y="432.95" width="15.28" height="23.22" fill="#33a02c"/>
<rect x="353.94" y="432.95" width="15.28" height="23.22" fill="#cccccc"/>
<rect x="369.21" y="432.95" width="15.28" height="23.22" fill="#cccccc"/>
<rect x="384.49" y="432.95" width="15.28" height="23.22" fill="#cccccc"/>
<rect x="399.77" y="432.95" width="15.28" height="23.22" fill="#cccccc"/>
<rect x="415.04" y="432.95" width="15.28" height="23.22" fill="#cccccc"/>
<rect x="430.32" y="432.95" width="15.28" height="23.22" fill="#cccccc"/>
<rect x="445.60" y="432.95" width="15.28" height="23.22" fill="#cccccc"/>
<rect x="460.87" y="432.95" width="15.28" height="23.22" fill="#cccccc"/>
<rect x="476.15" y="432.95" width="15.28" height="23.22" fill="#33a02c"/>
<rect x="491.43" y="432.95" width="15.28" height="23.22" fill="#cccccc"/>
<rect x="506.70" y="432.95" width="15.28" height="23.22" fill="#cccccc"/>
<rect x="521.98" y="432.95" width="15.28" height="23.22" fill="#33a02c"/>
<rect x="537.26" y="432.95" width="15.28" height="23.22" fill="#cccccc"/>
<rect x="552.53" y="432.95" width="15.28" height="23.22" fill="#cccccc"/>
<rect x="567.81" y="432.95" width="15.28" height="23.22" fill="#cccccc"/>
<rect x="583.09" y="432.95" width="15.28" height="23.22" fill="#cccccc"/>
<rect x="598.36" y="432.95" width="15.28" height="23.22" fill="#6a3d9a"/>
<rect x="613.64" y="432.95" width="15.28" height="23.22" fill="#cccccc"/>
<rect x="628.92" y="432.95" width="15.28" height="23.22" fill="#cccccc"/>
<rect x="644.19" y="432.95" width="15.28" height="23.22" fill="#cccccc"/>
<rect x="659.47" y="432.95" width="15.28" height="23.22" fill="#1f78b4"/>
<rect x="674.75" y="432.95" width="15.28" height="23.22" fill="#cccccc"/>
<rect x="690.02" y="432.95" width="15.08" height="23.22" fill="#cccccc"/>
<rect x="94.00" y="456.17" width="15.51" height="23.22" fill="#cccccc"/>
<rect x="109.51" y="456.17" width="15.28" height="23.22" fill="#cccccc"/>
<rect x="124.79" y="456.17" width="15.28" height="23.22" fill="#33a02c"/>
<rect x="140.06" y="456.17" width="15.28" height="23.22" fill="#cccccc"/>
<rect x="155.34" y="456.17" width="15.28" height="23.22" fill="#cccccc"/>
<rect x="170.62" y="456.17" width="15.28" height="23.22" fill="#cccccc"/>
<rect x="185.89" y="456.17" width="15.28" height="23.22" fill="#cccccc"/>
<rect x="201.17" y="456.17" width="15.28" height="23.22" fill="#cccccc"/>
<rect x="216.45" y="456.17" width="15.28" height="23.22" fill="#cccccc"/>
<rect x="231.72" y="456.17" width="15.28" height="23.22" fill="#cccccc"/>
<rect x="247.00" y="456.17" width="15.28" height="23.22" fill="#cccccc"/>
<rect x="262.28" y="456.17" width="15.28" height="23.22" fill="#cccccc"/>
<rect x="277.55" y="456.17" width="15.28" height="23.22" fill="#33a02c"/>
<rect x="292.83" y="456.17" width="15.28" height="23.22" fill="#cccccc"/>
<rect x="308.11" y="456.17" width="15.28" height="23.22" fill="#cccccc"/>
<rect x="323.38" y="456.17" width="15.28" height="23.22" fill="#cccccc"/>
<rect x="338.66" y="456.17" width="15.28" height="23.22" fill="#cccccc"/>
<rect x="353.94" y="456.17" width="15.28" height="23.22" fill="#cccccc"/>
<rect x="369.21" y="456.17" width="15.28" height="23.22" fill="#cccccc"/>
<rect x="384.49" y="456.17" width="15.28" height="23.22" fill="#cccccc"/>
<rect x="399.77" y="456.17" width="15.28" height="23.22" fill="#cccccc"/>
<rect x="415.04" y="456.17" width="15.28" height="23.22" fill="#cccccc"/>
<rect x="430.32" y="456.17" width="15.28" height="23.22" fill="#cccccc"/>
<rect x="445.60" y="456.17" width="15.28" height="23.22" fill="#cccccc"/>
<rect x="460.87" y="456.17" width="15.28" height="23.22" fill="#cccccc"/>
<rect x="476.15" y="456.17" width="15.28" height="23.22" fill="#cccccc"/>
<rect x="491.43" y="456.17" width="15.28" height="23.22" fill="#33a02c"/>
<rect x="506.70" y="456.17" width="15.28" height="23.22" fill="#cccccc"/>
<rect x="521.98" y="456.17" width="15.28" height="23.22" fill="#cccccc"/>
<rect x="537.26" y="456.17" width="15.28" height="23.22" fill="#cccccc"/>
<rect x="552.53" y="456.17" width="15.28" height="23.22" fill="#cccccc"/>
<rect x="567.81" y="456.17" width="15.28" height="23.22" fill="#cccccc"/>
<rect x="583.09" y="456.17" width="15.28" height="23.22" fill="#cccccc"/>
<rect x="598.36" y="456.17" width="15.28" height="23.22" fill="#cccccc"/>
<rect x="613.64" y="456.17" width="15.28" height="23.22" fill="#33a02c"/>
<rect x="628.92" y="456.17" width="15.28" height="23.22" fill="#cccccc"/>
<rect x="644.19" y="456.17" width="15.28" height="23.22" fill="#e31a1c"/>
<rect x="659.47" y="456.17" width="15.28" height="23.22" fill="#33a02c"/>
<rect x="674.75" y="456.17" width="15.28" height="23.22" fill="#cccccc"/>
<rect x="690.02" y="456.17" width="15.08" height="23.22" fill="#cccccc"/>
<rect x="94.00" y="479.38" width="15.51" height="23.22" fill="#cccccc"/>
<rect x="109.51" y="479.38" width="15.28" height="23.22" fill="#33a02c"/>
<rect x="124.79" y="479.38" width="15.28" height="23.22" fill="#cccccc"/>
<rect x="140.06" y="479.38" width="15.28" height="23.22" fill="#cccccc"/>
<rect x="155.34" y="479.38" width="15.28" height="23.22" fill="#cccccc"/>
<rect x="170.62" y="479.38" width="15.28" height="23.22" fill="#cccccc"/>
<rect x="185.89" y="479.38" width="15.28" height="23.22" fill="#cccccc"/>
<rect x="201.17" y="479.38" width="15.28" height="23.22" fill="#cccccc"/>
<rect x="216.45" y="479.38" width="15.28" height="23.22" fill="#cccccc"/>
<rect x="231.72" y="479.38" width="15.28" height="23.22" fill="#cccccc"/>
<rect x="247.00" y="479.38" width="15.28" height="23.22" fill="#cccccc"/>
<rect x="262.28" y="479.38" width="15.28" height="23.22" fill="#cccccc"/>
<rect x="277.55" y="479.38" width="15.28" height="23.22" fill="#cccccc"/>
<rect x="292.83" y="479.38" width="15.28" height="23.22" fill="#cccccc"/>
<rect x="308.11" y="479.38" width="15.28" height="23.22" fill="#cccccc"/>
<rect x="323.38" y="479.38" width="15.28" height="23.22" fill="#cccccc"/>
<rect x="338.66" y="479.38" width="15.28" height="23.22" fill="#cccccc"/>
<rect x="353.94" y="479.38" width="15.28" height="23.22" fill="#33a02c"/>
<rect x="369.21" y="479.38" width="15.28" height="23.22" fill="#cccccc"/>
<rect x="384.49" y="479.38" width="15.28" height="23.22" fill="#cccccc"/>
<rect x="399.77" y="479.38" width="15.28" height="23.22" fill="#cccccc"/>
<rect x="415.04" y="479.38" width="15.28" height="23.22" fill="#cccccc"/>
<rect x="430.32" y="479.38" width="15.28" height="23.22" fill="#cccccc"/>
<rect x="445.60" y="479.38" width="15.28" height="23.22" fill="#cccccc"/>
<rect x="460.87" y="479.38" width="15.28" height="23.22" fill="#cccccc"/>
<rect x="476.15" y="479.38" width="15.28" height="23.22" fill="#cccccc"/>
<rect x="491.43" y="479.38" width="15.28" height="23.22" fill="#33a02c"/>
<rect x="506.70" y="479.38" width="15.28" height="23.22" fill="#cccccc"/>
<rect x="521.98" y="479.38" width="15.28" height="23.22" fill="#cccccc"/>
<rect x="537.26" y="479.38" width="15.28" height="23.22" fill="#cccccc"/>
<rect x="552.53" y="479.38" width="15.28" height="23.22" fill="#cccccc"/>
<rect x="567.81" y="479.38" width="15.28" height="23.22" fill="#33a02c"/>
<rect x="583.09" y="479.38" width="15.28" height="23.22" fill="#cccccc"/>
<rect x="598.36" y="479.38" width="15.28" height="23.22" fill="#cccccc"/>
<rect x="613.64" y="479.38" width="15.28" height="23.22" fill="#cccccc"/>
<rect x="628.92" y="479.38" width="15.28" height="23.22" fill="#33a02c"/>
<rect x="644.19" y="479.38" width="15.28" height="23.22" fill="#cccccc"/>
<rect x="659.47" y="479.38" width="15.28" height="23.22" fill="#33a02c"/>
<rect x="674.75" y="479.38" width="15.28" height="23.22" fill="#cccccc"/>
<rect x="690.02" y="479.38" width="15.08" height="23.22" fill="#cccccc"/>
<rect x="94.00" y="502.60" width="15.51" height="23.22" fill="#cccccc"/>
<rect x="109.51" y="502.60" width="15.28" height="23.22" fill="#cccccc"/>
<rect x="124.79" y="502.60" width="15.28" height="23.22" fill="#cccccc"/>
<rect x="140.06" y="502.60" width="15.28" height="23.22" fill="#cccccc"/>
<rect x="155.34" y="502.60" width="15.28" height="23.22" fill="#cccccc"/>
<rect x="170.62" y="502.60" width="15.28" height="23.22" fill="#33a02c"/>
<rect x="185.89" y="502.60" width="15.28" height="23.22" fill="#cccccc"/>
<rect x="201.17" y="502.60" width="15.28" height="23.22" fill="#cccccc"/>
<rect x="216.45" y="502.60" width="15.28" height="23.22" fill="#cccccc"/>
<rect x="231.72" y="502.60" width="15.28" height="23.22" fill="#cccccc"/>
<rect x="247.00" y="502.60" width="15.28" height="23.22" fill="#cccccc"/>
<rect x="262.28" y="502.60" width="15.28" height="23.22" fill="#cccccc"/>
<rect x="277.55" y="502.60" width="15.28" height="23.22" fill="#cccccc"/>
<rect x="292.83" y="502.60" width="15.28" height="23.22" fill="#cccccc"/>
<rect x="308.11" y="502.60" width="15.28" height="23.22" fill="#e31a1c"/>
<rect x="323.38" y="502.60" width="15.28" height="23.22" fill="#cccccc"/>
<rect x="338.66" y="502.60" width="15.28" height="23.22" fill="#cccccc"/>
<rect x="353.94" y="502.60" width="15.28" height="23.22" fill="#cccccc"/>
<rect x="369.21" y="502.60" width="15.28" height="23.22" fill="#33a02c"/>
<rect x="384.49" y="502.60" width="15.28" height="23.22" fill="#cccccc"/>
<rect x="399.77" y="502.60" width="15.28" height="23.22" fill="#cccccc"/>
<rect x="415.04" y="502.60" width="15.28" height="23.22" fill="#cccccc"/>
<rect x="430.32" y="502.60" width="15.28" height="23.22" fill="#cccccc"/>
<rect x="445.60" y="502.60" width="15.28" height="23.22" fill="#cccccc"/>
<rect x="460.87" y="502.60" width="15.28" height="23.22" fill="#cccccc"/>
<rect x="476.15" y="502.60" width="15.28" height="23.22" fill="#cccccc"/>
<rect x="491.43" y="502.60" width="15.28" height="23.22" fill="#33a02c"/>
<rect x="506.70" y="502.60" width="15.28" height="23.22" fill="#cccccc"/>
<rect x="521.98" y="502.60" width="15.28" height="23.22" fill="#cccccc"/>
<rect x="537.26" y="502.60" width="15.28" height="23.22" fill="#cccccc"/>
<rect x="552.53" y="502.60" width="15.28" height="23.22" fill="#cccccc"/>
<rect x="567.81" y="502.60" width="15.28" height="23.22" fill="#33a02c"/>
<rect x="583.09" y="502.60" width="15.28" height="23.22" fill="#cccccc"/>
<rect x="598.36" y="502.60" width="15.28" height="23.22" fill="#cccccc"/>
<rect x="613.64" y="502.60" width="15.28" height="23.22" fill="#cccccc"/>
<rect x="628.92" y="502.60" width="15.28" height="23.22" fill="#cccccc"/>
<rect x="644.19" y="502.60" width="15.28" height="23.22" fill="#33a02c"/>
<rect x="659.47" y="502.60" width="15.28" height="23.22" fill="#cccccc"/>
<rect x="674.75" y="502.60" width="15.28" height="23.22" fill="#cccccc"/>
<rect x="690.02" y="502.60" width="15.08" height="23.22" fill="#cccccc"/>
<rect x="94.00" y="525.82" width="15.51" height="23.22" fill="#cccccc"/>
<rect x="109.51" y="525.82" width="15.28" height="23.22" fill="#cccccc"/>
<rect x="124.79" y="525.82" width="15.28" height="23.22" fill="#cccccc"/>
<rect x="140.06" y="525.82" width="15.28" height="23.22" fill="#e31a1c"/>
<rect x="155.34" y="525.82" width="15.28" height="23.22" fill="#cccccc"/>
<rect x="170.62" y="525.82" width="15.28" height="23.22" fill="#cccccc"/>
<rect x="185.89" y="525.82" width="15.28" height="23.22" fill="#cccccc"/>
<rect x="201.17" y="525.82" width="15.28" height="23.22" fill="#cccccc"/>
<rect x="216.45" y="525.82" width="15.28" height="23.22" fill="#cccccc"/>
<rect x="231.72" y="525.82" width="15.28" height="23.22" fill="#cccccc"/>
<rect x="247.00" y="525.82" width="15.28" height="23.22" fill="#cccccc"/>
<rect x="262.28" y="525.82" width="15.28" height="23.22" fill="#cccccc"/>
<rect x="277.55" y="525.82" width="15.28" height="23.22" fill="#cccccc"/>
<rect x="292.83" y="525.82" width="15.28" height="23.22" fill="#e31a1c"/>
<rect x="308.11" y="525.82" width="15.28" height="23.22" fill="#cccccc"/>
<rect x="323.38" y="525.82" width="15.28" height="23.22" fill="#e31a1c"/>
<rect x="338.66" y="525.82" width="15.28" height="23.22" fill="#cccccc"/>
<rect x="353.94" y="525.82" width="15.28" height="23.22" fill="#cccccc"/>
<rect x="369.21" y="525.82" width="15.28" height="23.22" fill="#cccccc"/>
<rect x="384.49" y="525.82" width="15.28" height="23.22" fill="#e31a1c"/>
<rect x="399.77" y="525.82" width="15.28" height="23.22" fill="#cccccc"/>
<rect x="415.04" y="525.82" width="15.28" height="23.22" fill="#cccccc"/>
<rect x="430.32" y="525.82" width="15.28" height="23.22" fill="#cccccc"/>
<rect x="445.60" y="525.82" width="15.28" height="23.22" fill="#cccccc"/>
<rect x="460.87" y="525.82" width="15.28" height="23.22" fill="#cccccc"/>
<rect x="476.15" y="525.82" width="15.28" height="23.22" fill="#cccccc"/>
<rect x="491.43" y="525.82" width="15.28" height="23.22" fill="#cccccc"/>
<rect x="506.70" y="525.82" width="15.28" height="23.22" fill="#cccccc"/>
<rect x="521.98" y="525.82" width="15.28" height="23.22" fill="#e31a1c"/>
<rect x="537.26" y="525.82" width="15.28" height="23.22" fill="#cccccc"/>
<rect x="552.53" y="525.82" width="15.28" height="23.22" fill="#cccccc"/>
<rect x="567.81" y="525.82" width="15.28" height="23.22" fill="#cccccc"/>
<rect x="583.09" y="525.82" width="15.28" height="23.22" fill="#cccccc"/>
<rect x="598.36" y="525.82" width="15.28" height="23.22" fill="#cccccc"/>
<rect x="613.64" y="525.82" width="15.28" height="23.22" fill="#cccccc"/>
<rect x="628.92" y="525.82" width="15.28" height="23.22" fill="#cccccc"/>
<rect x="644.19" y="525.82" width="15.28" height="23.22" fill="#33a02c"/>
<rect x="659.47" y="525.82" width="15.28" height="23.22" fill="#cccccc"/>
<rect x="674.75" y="525.82" width="15.28" height="23.22" fill="#cccccc"/>
<rect x="690.02" y="525.82" width="15.08" height="23.22" fill="#cccccc"/>
<rect x="94.00" y="549.04" width="15.51" height="23.22" fill="#cccccc"/>
<rect x="109.51" y="549.04" width="15.28" height="23.22" fill="#cccccc"/>
<rect x="124.79" y="549.04" width="15.28" height="23.22" fill="#cccccc"/>
<rect x="140.06" y="549.04" width="15.28" height="23.22" fill="#cccccc"/>
<rect x="155.34" y="549.04" width="15.28" height="23.22" fill="#cccccc"/>
<rect x="170.62" y="549.04" width="15.28" height="23.22" fill="#cccccc"/>
<rect x="185.89" y="549.04" width="15.28" height="23.22" fill="#cccccc"/>
<rect x="201.17" y="549.04" width="15.28" height="23.22" fill="#cccccc"/>
<rect x="216.45" y="549.04" width="15.28" height="23.22" fill="#cccccc"/>
<rect x="231.72" y="549.04" width="15.28" height="23.22" fill="#cccccc"/>
<rect x="247.00" y="549.04" width="15.28" height="23.22" fill="#cccccc"/>
<rect x="262.28" y="549.04" width="15.28" height="23.22" fill="#cccccc"/>
<rect x="277.55" y="549.04" width="15.28" height="23.22" fill="#cccccc"/>
<rect x="292.83" y="549.04" width="15.28" height="23.22" fill="#cccccc"/>
<rect x="308.11" y="549.04" width="15.28" height="23.22" fill="#33a02c"/>
<rect x="323.38" y="549.04" width="15.28" height="23.22" fill="#cccccc"/>
<rect x="338.66" y="549.04" width="15.28" height="23.22" fill="#cccccc"/>
<rect x="353.94" y="549.04" width="15.28" height="23.22" fill="#cccccc"/>
<rect x="369.21" y="549.04" width="15.28" height="23.22" fill="#cccccc"/>
<rect x="384.49" y="549.04" width="15.28" height="23.22" fill="#cccccc"/>
<rect x="399.77" y="549.04" width="15.28" height="23.22" fill="#cccccc"/>
<rect x="415.04" y="549.04" width="15.28" height="23.22" fill="#cccccc"/>
<rect x="430.32" y="549.04" width="15.28" height="23.22" fill="#cccccc"/>
<rect x="445.60" y="549.04" width="15.28" height="23.22" fill="#cccccc"/>
<rect x="460.87" y="549.04" width="15.28" height="23.22" fill="#33a02c"/>
<rect x="476.15" y="549.04" width="15.28" height="23.22" fill="#cccccc"/>
<rect x="491.43" y="549.04" width="15.28" height="23.22" fill="#cccccc"/>
<rect x="506.70" y="549.04" width="15.28" height="23.22" fill="#cccccc"/>
<rect x="521.98" y="549.04" width="15.28" height="23.22" fill="#33a02c"/>
<rect x="537.26" y="549.04" width="15.28" height="23.22" fill="#cccccc"/>
<rect x="552.53" y="549.04" width="15.28" height="23.22" fill="#cccccc"/>
<rect x="567.81" y="549.04" width="15.28" height="23.22" fill="#cccccc"/>
<rect x="583.09" y="549.04" width="15.28" height="23.22" fill="#33a02c"/>
<rect x="598.36" y="549.04" width="15.28" height="23.22" fill="#cccccc"/>
<rect x="613.64" y="549.04" width="15.28" height="23.22" fill="#cccccc"/>
<rect x="628.92" y="549.04" width="15.28" height="23.22" fill="#cccccc"/>
<rect x="644.19" y="549.04" width="15.28" height="23.22" fill="#cccccc"/>
<rect x="659.47" y="549.04" width="15.28" height="23.22" fill="#33a02c"/>
<rect x="674.75" y="549.04" width="15.28" height="23.22" fill="#33a02c"/>
<rect x="690.02" y="549.04" width="15.08" height="23.22" fill="#cccccc"/>
<rect x="94.00" y="572.26" width="15.51" height="23.22" fill="#cccccc"/>
<rect x="109.51" y="572.26" width="15.28" height="23.22" fill="#cccccc"/>
<rect x="124.79" y="572.26" width="15.28" height="23.22" fill="#cccccc"/>
<rect x="140.06" y="572.26" width="15.28" height="23.22" fill="#cccccc"/>
<rect x="155.34" y="572.26" width="15.28" height="23.22" fill="#cccccc"/>
<rect x="170.62" y="572.26" width="15.28" height="23.22" fill="#cccccc"/>
<rect x="185.89" y="572.26" width="15.28" height="23.22" fill="#cccccc"/>
<rect x="201.17" y="572.26" width="15.28" height="23.22" fill="#cccccc"/>
<rect x="216.45" y="572.26" width="15.28" height="23.22" fill="#cccccc"/>
<rect x="231.72" y="572.26" width="15.28" height="23.22" fill="#cccccc"/>
<rect x="247.00" y="572.26" width="15.28" height="23.22" fill="#cccccc"/>
<rect x="262.28" y="572.26" width="15.28" height="23.22" fill="#cccccc"/>
<rect x="277.55" y="572.26" width="15.28" height="23.22" fill="#cccccc"/>
<rect x="292.83" y="572.26" width="15.28" height="23.22" fill="#cccccc"/>
<rect x="308.11" y="572.26" width="15.28" height="23.22" fill="#cccccc"/>
<rect x="323.38" y="572.26" width="15.28" height="23.22" fill="#cccccc"/>
<rect x="338.66" y="572.26" width="15.28" height="23.22" fill="#cccccc"/>
<rect x="353.94" y="572.26" width="15.28" height="23.22" fill="#33a02c"/>
<rect x="369.21" y="572.26" width="15.28" height="23.22" fill="#33a02c"/>
<rect x="384.49" y="572.26" width="15.28" height="23.22" fill="#33a02c"/>
<rect x="399.77" y="572.26" width="15.28" height="23.22" fill="#33a02c"/>
<rect x="415.04" y="572.26" width="15.28" height="23.22" fill="#cccccc"/>
<rect x="430.32" y="572.26" width="15.28" height="23.22" fill="#cccccc"/>
<rect x="445.60" y="572.26" width="15.28" height="23.22" fill="#cccccc"/>
<rect x="460.87" y="572.26" width="15.28" height="23.22" fill="#cccccc"/>
<rect x="476.15" y="572.26" width="15.28" height="23.22" fill="#cccccc"/>
<rect x="491.43" y="572.26" width="15.28" height="23.22" fill="#cccccc"/>
<rect x="506.70" y="572.26" width="15.28" height="23.22" fill="#cccccc"/>
<rect x="521.98" y="572.26" width="15.28" height="23.22" fill="#cccccc"/>
<rect x="537.26" y="572.26" width="15.28" height="23.22" fill="#cccccc"/>
<rect x="552.53" y="572.26" width="15.28" height="23.22" fill="#cccccc"/>
<rect x="567.81" y="572.26" width="15.28" height="23.22" fill="#cccccc"/>
<rect x="583.09" y="572.26" width="15.28" height="23.22" fill="#cccccc"/>
<rect x="598.36" y="572.26" width="15.28" height="23.22" fill="#cccccc"/>
<rect x="613.64" y="572.26" width="15.28" height="23.22" fill="#cccccc"/>
<rect x="628.92" y="572.26" width="15.28" height="23.22" fill="#cccccc"/>
<rect x="644.19" y="572.26" width="15.28" height="23.22" fill="#cccccc"/>
<rect x="659.47" y="572.26" width="15.28" height="23.22" fill="#33a02c"/>
<rect x="674.75" y="572.26" width="15.28" height="23.22" fill="#cccccc"/>
<rect x="690.02" y="572.26" width="15.08" height="23.22" fill="#33a02c"/>
<rect x="94.00" y="595.47" width="15.51" height="23.22" fill="#cccccc"/>
<rect x="109.51" y="595.47" width="15.28" height="23.22" fill="#cccccc"/>
<rect x="124.79" y="595.47" width="15.28" height="23.22" fill="#33a02c"/>
<rect x="140.06" y="595.47" width="15.28" height="23.22" fill="#cccccc"/>
<rect x="155.34" y="595.47" width="15.28" height="23.22" fill="#cccccc"/>
<rect x="170.62" y="595.47" width="15.28" height="23.22" fill="#cccccc"/>
<rect x="185.89" y="595.47" width="15.28" height="23.22" fill="#33a02c"/>
<rect x="201.17" y="595.47" width="15.28" height="23.22" fill="#cccccc"/>
<rect x="216.45" y="595.47" width="15.28" height="23.22" fill="#cccccc"/>
<rect x="231.72" y="595.47" width="15.28" height="23.22" fill="#cccccc"/>
<rect x="247.00" y="595.47" width="15.28" height="23.22" fill="#cccccc"/>
<rect x="262.28" y="595.47" width="15.28" height="23.22" fill="#cccccc"/>
<rect x="277.55" y="595.47" width="15.28" height="23.22" fill="#cccccc"/>
<rect x="292.83" y="595.47" width="15.28" height="23.22" fill="#cccccc"/>
<rect x="308.11" y="595.47" width="15.28" height="23.22" fill="#cccccc"/>
<rect x="323.38" y="595.47" width="15.28" height="23.22" fill="#cccccc"/>
<rect x="338.66" y="595.47" width="15.28" height="23.22" fill="#cccccc"/>
<rect x="353.94" y="595.47" width="15.28" height="23.22" fill="#cccccc"/>
<rect x="369.21" y="595.47" width="15.28" height="23.22" fill="#cccccc"/>
<rect x="384.49" y="595.47" width="15.28" height="23.22" fill="#cccccc"/>
<rect x="399.77" y="595.47" width="15.28" height="23.22" fill="#cccccc"/>
<rect x="415.04" y="595.47" width="15.28" height="23.22" fill="#cccccc"/>
<rect x="430.32" y="595.47" width="15.28" height="23.22" fill="#cccccc"/>
<rect x="445.60" y="595.47" width="15.28" height="23.22" fill="#cccccc"/>
<rect x="460.87" y="595.47" width="15.28" height="23.22" fill="#33a02c"/>
<rect x="476.15" y="595.47" width="15.28" height="23.22" fill="#cccccc"/>
<rect x="491.43" y="595.47" width="15.28" height="23.22" fill="#33a02c"/>
<rect x="506.70" y="595.47" width="15.28" height="23.22" fill="#cccccc"/>
<rect x="521.98" y="595.47" width="15.28" height="23.22" fill="#33a02c"/>
<rect x="537.26" y="595.47" width="15.28" height="23.22" fill="#cccccc"/>
<rect x="552.53" y="595.47" width="15.28" height="23.22" fill="#cccccc"/>
<rect x="567.81" y="595.47" width="15.28" height="23.22" fill="#cccccc"/>
<rect x="583.09" y="595.47" width="15.28" height="23.22" fill="#cccccc"/>
<rect x="598.36" y="595.47" width="15.28" height="23.22" fill="#cccccc"/>
<rect x="613.64" y="595.47" width="15.28" height="23.22" fill="#cccccc"/>
<rect x="628.92" y="595.47" width="15.28" height="23.22" fill="#cccccc"/>
<rect x="644.19" y="595.47" width="15.28" height="23.22" fill="#1f78b4"/>
<rect x="659.47" y="595.47" width="15.28" height="23.22" fill="#cccccc"/>
<rect x="674.75" y="595.47" width="15.28" height="23.22" fill="#cccccc"/>
<rect x="690.02" y="595.47" width="15.08" height="23.22" fill="#cccccc"/>
<rect x="94.00" y="618.69" width="15.51" height="22.31" fill="#e31a1c"/>
<rect x="109.51" y="618.69" width="15.28" height="22.31" fill="#33a02c"/>
<rect x="124.79" y="618.69" width="15.28" height="22.31" fill="#cccccc"/>
<rect x="140.06" y="618.69" width="15.28" height="22.31" fill="#cccccc"/>
<rect x="155.34" y="618.69" width="15.28" height="22.31" fill="#cccccc"/>
<rect x="170.62" y="618.69" width="15.28" height="22.31" fill="#cccccc"/>
<rect x="185.89" y="618.69" width="15.28" height="22.31" fill="#cccccc"/>
<rect x="201.17" y="618.69" width="15.28" height="22.31" fill="#cccccc"/>
<rect x="216.45" y="618.69" width="15.28" height="22.31" fill="#cccccc"/>
<rect x="231.72" y="618.69" width="15.28" height="22.31" fill="#cccccc"/>
<rect x="247.00" y="618.69" width="15.28" height="22.31" fill="#cccccc"/>
<rect x="262.28" y="618.69" width="15.28" height="22.31" fill="#cccccc"/>
<rect x="277.55" y="618.69" width="15.28" height="22.31" fill="#cccccc"/>
<rect x="292.83" y="618.69" width="15.28" height="22.31" fill="#cccccc"/>
<rect x="308.11" y="618.69" width="15.28" height="22.31" fill="#cccccc"/>
<rect x="323.38" y="618.69" width="15.28" height="22.31" fill="#cccccc"/>
<rect x="338.66" y="618.69" width="15.28" height="22.31" fill="#cccccc"/>
<rect x="353.94" y="618.69" width="15.28" height="22.31" fill="#cccccc"/>
<rect x="369.21" y="618.69" width="15.28" height="22.31" fill="#cccccc"/>
<rect x="384.49" y="618.69" width="15.28" height="22.31" fill="#33a02c"/>
<rect x="399.77" y="618.69" width="15.28" height="22.31" fill="#cccccc"/>
<rect x="415.04" y="618.69" width="15.28" height="22.31" fill="#cccccc"/>
<rect x="430.32" y="618.69" width="15.28" height="22.31" fill="#cccccc"/>
<rect x="445.60" y="618.69" width="15.28" height="22.31" fill="#cccccc"/>
<rect x="460.87" y="618.69" width="15.28" height="22.31" fill="#cccccc"/>
<rect x="476.15" y="618.69" width="15.28" height="22.31" fill="#cccccc"/>
<rect x="491.43" y="618.69" width="15.28" height="22.31" fill="#33a02c"/>
<rect x="506.70" y="618.69" width="15.28" height="22.31" fill="#cccccc"/>
<rect x="521.98" y="618.69" width="15.28" height="22.31" fill="#33a02c"/>
<rect x="537.26" y="618.69" width="15.28" height="22.31" fill="#cccccc"/>
<rect x="552.53" y="618.69" width="15.28" height="22.31" fill="#cccccc"/>
<rect x="567.81" y="618.69" width="15.28" height="22.31" fill="#cccccc"/>
<rect x="583.09" y="618.69" width="15.28" height="22.31" fill="#cccccc"/>
<rect x="598.36" y="618.69" width="15.28" height="22.31" fill="#cccccc"/>
<rect x="613.64" y="618.69" width="15.28" height="22.31" fill="#cccccc"/>
<rect x="628.92" y="618.69" width="15.28" height="22.31" fill="#cccccc"/>
<rect x="644.19" y="618.69" width="15.28" height="22.31" fill="#cccccc"/>
<rect x="659.47" y="618.69" width="15.28" height="22.31" fill="#33a02c"/>
<rect x="674.75" y="618.69" width="15.28" height="22.31" fill="#cccccc"/>
<rect x="690.02" y="618.69" width="15.08" height="22.31" fill="#cccccc"/>
<rect x="109.11" y="177.80" width="0.8" height="463.20" fill="#fff" fill-opacity="0.85"/>
<rect x="124.39" y="177.80" width="0.8" height="463.20" fill="#fff" fill-opacity="0.85"/>
<rect x="139.66" y="177.80" width="0.8" height="463.20" fill="#fff" fill-opacity="0.85"/>
<rect x="154.94" y="177.80" width="0.8" height="463.20" fill="#fff" fill-opacity="0.85"/>
<rect x="170.22" y="177.80" width="0.8" height="463.20" fill="#fff" fill-opacity="0.85"/>
<rect x="185.49" y="177.80" width="0.8" height="463.20" fill="#fff" fill-opacity="0.85"/>
<rect x="200.77" y="177.80" width="0.8" height="463.20" fill="#fff" fill-opacity="0.85"/>
<rect x="216.05" y="177.80" width="0.8" height="463.20" fill="#fff" fill-opacity="0.85"/>
<rect x="231.32" y="177.80" width="0.8" height="463.20" fill="#fff" fill-opacity="0.85"/>
<rect x="246.60" y="177.80" width="0.8" height="463.20" fill="#fff" fill-opacity="0.85"/>
<rect x="261.88" y="177.80" width="0.8" height="463.20" fill="#fff" fill-opacity="0.85"/>
<rect x="277.15" y="177.80" width="0.8" height="463.20" fill="#fff" fill-opacity="0.85"/>
<rect x="292.43" y="177.80" width="0.8" height="463.20" fill="#fff" fill-opacity="0.85"/>
<rect x="307.71" y="177.80" width="0.8" height="463.20" fill="#fff" fill-opacity="0.85"/>
<rect x="322.98" y="177.80" width="0.8" height="463.20" fill="#fff" fill-opacity="0.85"/>
<rect x="338.26" y="177.80" width="0.8" height="463.20" fill="#fff" fill-opacity="0.85"/>
<rect x="353.54" y="177.80" width="0.8" height="463.20" fill="#fff" fill-opacity="0.85"/>
<rect x="368.81" y="177.80" width="0.8" height="463.20" fill="#fff" fill-opacity="0.85"/>
<rect x="384.09" y="177.80" width="0.8" height="463.20" fill="#fff" fill-opacity="0.85"/>
<rect x="399.37" y="177.80" width="0.8" height="463.20" fill="#fff" fill-opacity="0.85"/>
<rect x="414.64" y="177.80" width="0.8" height="463.20" fill="#fff" fill-opacity="0.85"/>
<rect x="429.92" y="177.80" width="0.8" height="463.20" fill="#fff" fill-opacity="0.85"/>
<rect x="445.20" y="177.80" width="0.8" height="463.20" fill="#fff" fill-opacity="0.85"/>
<rect x="460.47" y="177.80" width="0.8" height="463.20" fill="#fff" fill-opacity="0.85"/>
<rect x="475.75" y="177.80" width="0.8" height="463.20" fill="#fff" fill-opacity="0.85"/>
<rect x="491.03" y="177.80" width="0.8" height="463.20" fill="#fff" fill-opacity="0.85"/>
<rect x="506.30" y="177.80" width="0.8" height="463.20" fill="#fff" fill-opacity="0.85"/>
<rect x="521.58" y="177.80" width="0.8" height="463.20" fill="#fff" fill-opacity="0.85"/>
<rect x="536.86" y="177.80" width="0.8" height="463.20" fill="#fff" fill-opacity="0.85"/>
<rect x="552.13" y="177.80" width="0.8" height="463.20" fill="#fff" fill-opacity="0.85"/>
<rect x="567.41" y="177.80" width="0.8" height="463.20" fill="#fff" fill-opacity="0.85"/>
<rect x="582.69" y="177.80" width="0.8" height="463.20" fill="#fff" fill-opacity="0.85"/>
<rect x="597.96" y="177.80" width="0.8" height="463.20" fill="#fff" fill-opacity="0.85"/>
<rect x="613.24" y="177.80" width="0.8" height="463.20" fill="#fff" fill-opacity="0.85"/>
<rect x="628.52" y="177.80" width="0.8" height="463.20" fill="#fff" fill-opacity="0.85"/>
<rect x="643.79" y="177.80" width="0.8" height="463.20" fill="#fff" fill-opacity="0.85"/>
<rect x="659.07" y="177.80" width="0.8" height="463.20" fill="#fff" fill-opacity="0.85"/>
<rect x="674.35" y="177.80" width="0.8" height="463.20" fill="#fff" fill-opacity="0.85"/>
<rect x="689.62" y="177.80" width="0.8" height="463.20" fill="#fff" fill-opacity="0.85"/>
<rect x="94.00" y="200.27" width="611.10" height="1.0" fill="#fff" fill-opacity="0.85"/>
<rect x="94.00" y="223.49" width="611.10" height="1.0" fill="#fff" fill-opacity="0.85"/>
<rect x="94.00" y="246.70" width="611.10" height="1.0" fill="#fff" fill-opacity="0.85"/>
<rect x="94.00" y="269.92" width="611.10" height="1.0" fill="#fff" fill-opacity="0.85"/>
<rect x="94.00" y="293.14" width="611.10" height="1.0" fill="#fff" fill-opacity="0.85"/>
<rect x="94.00" y="316.36" width="611.10" height="1.0" fill="#fff" fill-opacity="0.85"/>
<rect x="94.00" y="339.58" width="611.10" height="1.0" fill="#fff" fill-opacity="0.85"/>
<rect x="94.00" y="362.79" width="611.10" height="1.0" fill="#fff" fill-opacity="0.85"/>
<rect x="94.00" y="386.01" width="611.10" height="1.0" fill="#fff" fill-opacity="0.85"/>
<rect x="94.00" y="409.23" width="611.10" height="1.0" fill="#fff" fill-opacity="0.85"/>
<rect x="94.00" y="432.45" width="611.10" height="1.0" fill="#fff" fill-opacity="0.85"/>
<rect x="94.00" y="455.67" width="611.10" height="1.0" fill="#fff" fill-opacity="0.85"/>
<rect x="94.00" y="478.88" width="611.10" height="1.0" fill="#fff" fill-opacity="0.85"/>
<rect x="94.00" y="502.10" width="611.10" height="1.0" fill="#fff" fill-opacity="0.85"/>
<rect x="94.00" y="525.32" width="611.10" height="1.0" fill="#fff" fill-opacity="0.85"/>
<rect x="94.00" y="548.54" width="611.10" height="1.0" fill="#fff" fill-opacity="0.85"/>
<rect x="94.00" y="571.76" width="611.10" height="1.0" fill="#fff" fill-opacity="0.85"/>
<rect x="94.00" y="594.97" width="611.10" height="1.0" fill="#fff" fill-opacity="0.85"/>
<rect x="94.00" y="618.19" width="611.10" height="1.0" fill="#fff" fill-opacity="0.85"/>
<circle cx="208.81" cy="189.16" r="1.25" fill="#000"/>
<circle cx="300.47" cy="189.16" r="1.25" fill="#000"/>
<circle cx="514.34" cy="189.16" r="1.25" fill="#000"/>
<circle cx="101.87" cy="212.38" r="1.25" fill="#000"/>
<circle cx="132.43" cy="212.38" r="1.25" fill="#000"/>
<circle cx="147.70" cy="212.38" r="1.25" fill="#000"/>
<circle cx="162.98" cy="212.38" r="1.25" fill="#000"/>
<circle cx="178.26" cy="212.38" r="1.25" fill="#000"/>
<circle cx="193.53" cy="212.38" r="1.25" fill="#000"/>
<circle cx="300.47" cy="212.38" r="1.25" fill="#000"/>
<circle cx="315.75" cy="212.38" r="1.25" fill="#000"/>
<circle cx="361.58" cy="212.38" r="1.25" fill="#000"/>
<circle cx="376.85" cy="212.38" r="1.25" fill="#000"/>
<circle cx="392.13" cy="212.38" r="1.25" fill="#000"/>
<circle cx="575.45" cy="212.38" r="1.25" fill="#000"/>
<circle cx="621.28" cy="212.38" r="1.25" fill="#000"/>
<circle cx="254.64" cy="258.81" r="1.25" fill="#000"/>
<circle cx="667.11" cy="258.81" r="1.25" fill="#000"/>
<circle cx="285.19" cy="305.25" r="1.25" fill="#000"/>
<circle cx="606.00" cy="328.47" r="1.25" fill="#000"/>
<circle cx="636.55" cy="328.47" r="1.25" fill="#000"/>
<circle cx="667.11" cy="351.69" r="1.25" fill="#000"/>
<circle cx="651.83" cy="467.77" r="1.25" fill="#000"/>
<circle cx="147.70" cy="537.43" r="1.25" fill="#000"/>
<circle cx="529.62" cy="560.65" r="1.25" fill="#000"/>
<circle cx="667.11" cy="560.65" r="1.25" fill="#000"/>
<circle cx="499.06" cy="607.08" r="1.25" fill="#000"/>
<circle cx="529.62" cy="630.30" r="1.25" fill="#000"/>
<circle cx="667.11" cy="630.30" r="1.25" fill="#000"/>
<text x="86.6" y="196.16" font-size="19" font-style="italic" text-anchor="end">TP53</text>
<text x="706.6" y="196.26" font-size="19">76%</text>
<text x="86.6" y="219.38" font-size="19" font-style="italic" text-anchor="end">APC</text>
<text x="706.6" y="219.48" font-size="19">66%</text>
<text x="86.6" y="242.60" font-size="19" font-style="italic" text-anchor="end">KRAS</text>
<text x="706.6" y="242.70" font-size="19">41%</text>
<text x="86.6" y="265.81" font-size="19" font-style="italic" text-anchor="end">ABCA13</text>
<text x="706.6" y="265.91" font-size="19">20%</text>
<text x="86.6" y="289.03" font-size="19" font-style="italic" text-anchor="end">FAT4</text>
<text x="706.6" y="289.13" font-size="19">20%</text>
<text x="86.6" y="312.25" font-size="19" font-style="italic" text-anchor="end">PCLO</text>
<text x="706.6" y="312.35" font-size="19">20%</text>
<text x="86.6" y="335.47" font-size="19" font-style="italic" text-anchor="end">PIK3CA</text>
<text x="706.6" y="335.57" font-size="19">20%</text>
<text x="86.6" y="358.69" font-size="19" font-style="italic" text-anchor="end">UNC80</text>
<text x="706.6" y="358.79" font-size="19">20%</text>
<text x="86.6" y="381.90" font-size="19" font-style="italic" text-anchor="end">COL6A5</text>
<text x="706.6" y="382.00" font-size="19">17%</text>
<text x="86.6" y="405.12" font-size="19" font-style="italic" text-anchor="end">HRNR</text>
<text x="706.6" y="405.22" font-size="19">17%</text>
<text x="86.6" y="428.34" font-size="19" font-style="italic" text-anchor="end">ADAMTS16</text>
<text x="706.6" y="428.44" font-size="19">15%</text>
<text x="86.6" y="451.56" font-size="19" font-style="italic" text-anchor="end">CCDC168</text>
<text x="706.6" y="451.66" font-size="19">15%</text>
<text x="86.6" y="474.77" font-size="19" font-style="italic" text-anchor="end">FBXW7</text>
<text x="706.6" y="474.88" font-size="19">15%</text>
<text x="86.6" y="497.99" font-size="19" font-style="italic" text-anchor="end">FNDC1</text>
<text x="706.6" y="498.09" font-size="19">15%</text>
<text x="86.6" y="521.21" font-size="19" font-style="italic" text-anchor="end">MUC12</text>
<text x="706.6" y="521.31" font-size="19">15%</text>
<text x="86.6" y="544.43" font-size="19" font-style="italic" text-anchor="end">RHPN2</text>
<text x="706.6" y="544.53" font-size="19">15%</text>
<text x="86.6" y="567.65" font-size="19" font-style="italic" text-anchor="end">RYR1</text>
<text x="706.6" y="567.75" font-size="19">15%</text>
<text x="86.6" y="590.87" font-size="19" font-style="italic" text-anchor="end">RYR2</text>
<text x="706.6" y="590.97" font-size="19">15%</text>
<text x="86.6" y="614.08" font-size="19" font-style="italic" text-anchor="end">VIPR2</text>
<text x="706.6" y="614.18" font-size="19">15%</text>
<text x="86.6" y="637.30" font-size="19" font-style="italic" text-anchor="end">ZFHX4</text>
<text x="706.6" y="637.40" font-size="19">15%</text>
<text transform="translate(107.97,646.0) rotate(-90)" font-size="15.4" text-anchor="end">7976T</text>
<text transform="translate(123.25,646.0) rotate(-90)" font-size="15.4" text-anchor="end">8174T</text>
<text transform="translate(138.53,646.0) rotate(-90)" font-size="15.4" text-anchor="end">6783T</text>
<text transform="translate(153.80,646.0) rotate(-90)" font-size="15.4" text-anchor="end">9455T</text>
<text transform="translate(169.08,646.0) rotate(-90)" font-size="15.4" text-anchor="end">7011T</text>
<text transform="translate(184.36,646.0) rotate(-90)" font-size="15.4" text-anchor="end">8048T</text>
<text transform="translate(199.63,646.0) rotate(-90)" font-size="15.4" text-anchor="end">7968T</text>
<text transform="translate(214.91,646.0) rotate(-90)" font-size="15.4" text-anchor="end">6763T</text>
<text transform="translate(230.19,646.0) rotate(-90)" font-size="15.4" text-anchor="end">7247T</text>
<text transform="translate(245.46,646.0) rotate(-90)" font-size="15.4" text-anchor="end">8943T</text>
<text transform="translate(260.74,646.0) rotate(-90)" font-size="15.4" text-anchor="end">8008T</text>
<text transform="translate(276.02,646.0) rotate(-90)" font-size="15.4" text-anchor="end">9277T</text>
<text transform="translate(291.29,646.0) rotate(-90)" font-size="15.4" text-anchor="end">9515T</text>
<text transform="translate(306.57,646.0) rotate(-90)" font-size="15.4" text-anchor="end">6816T</text>
<text transform="translate(321.85,646.0) rotate(-90)" font-size="15.4" text-anchor="end">8928T</text>
<text transform="translate(337.12,646.0) rotate(-90)" font-size="15.4" text-anchor="end">7081T</text>
<text transform="translate(352.40,646.0) rotate(-90)" font-size="15.4" text-anchor="end">9471T</text>
<text transform="translate(367.68,646.0) rotate(-90)" font-size="15.4" text-anchor="end">7322T</text>
<text transform="translate(382.95,646.0) rotate(-90)" font-size="15.4" text-anchor="end">6315T</text>
<text transform="translate(398.23,646.0) rotate(-90)" font-size="15.4" text-anchor="end">6835T</text>
<text transform="translate(413.51,646.0) rotate(-90)" font-size="15.4" text-anchor="end">6807T</text>
<text transform="translate(428.78,646.0) rotate(-90)" font-size="15.4" text-anchor="end">6999T</text>
<text transform="translate(444.06,646.0) rotate(-90)" font-size="15.4" text-anchor="end">9256T</text>
<text transform="translate(459.34,646.0) rotate(-90)" font-size="15.4" text-anchor="end">8689T</text>
<text transform="translate(474.61,646.0) rotate(-90)" font-size="15.4" text-anchor="end">7047T</text>
<text transform="translate(489.89,646.0) rotate(-90)" font-size="15.4" text-anchor="end">6824T</text>
<text transform="translate(505.16,646.0) rotate(-90)" font-size="15.4" text-anchor="end">7084T</text>
<text transform="translate(520.44,646.0) rotate(-90)" font-size="15.4" text-anchor="end">9252T</text>
<text transform="translate(535.72,646.0) rotate(-90)" font-size="15.4" text-anchor="end">8169T</text>
<text transform="translate(550.99,646.0) rotate(-90)" font-size="15.4" text-anchor="end">6856T</text>
<text transform="translate(566.27,646.0) rotate(-90)" font-size="15.4" text-anchor="end">7295T</text>
<text transform="translate(581.55,646.0) rotate(-90)" font-size="15.4" text-anchor="end">8040T</text>
<text transform="translate(596.82,646.0) rotate(-90)" font-size="15.4" text-anchor="end">9567T</text>
<text transform="translate(612.10,646.0) rotate(-90)" font-size="15.4" text-anchor="end">9224T</text>
<text transform="translate(627.38,646.0) rotate(-90)" font-size="15.4" text-anchor="end">9285T</text>
<text transform="translate(642.65,646.0) rotate(-90)" font-size="15.4" text-anchor="end">9181T</text>
<text transform="translate(657.93,646.0) rotate(-90)" font-size="15.4" text-anchor="end">8164T</text>
<text transform="translate(673.21,646.0) rotate(-90)" font-size="15.4" text-anchor="end">7960T</text>
<text transform="translate(688.48,646.0) rotate(-90)" font-size="15.4" text-anchor="end">6869T</text>
<text transform="translate(703.76,646.0) rotate(-90)" font-size="15.4" text-anchor="end">8837T</text>
<rect x="57.1" y="730.4" width="8.6" height="8.5" fill="#e31a1c"/>
<text x="69.3" y="741.9" font-size="18.4">Nonsense</text>
<rect x="176.0" y="730.4" width="8.6" height="8.5" fill="#1f78b4"/>
<text x="187.5" y="741.9" font-size="18.4">Frame Shift Del</text>
<rect x="350.75" y="730.4" width="8.6" height="8.5" fill="#6a3d9a"/>
<text x="361.2" y="741.9" font-size="18.4">Frame Shift Ins</text>
<rect x="518.9" y="730.4" width="8.6" height="8.5" fill="#ff7f00"/>
<text x="530.8" y="741.9" font-size="18.4">Splice Site</text>
<rect x="647.0" y="730.4" width="8.6" height="8.5" fill="#33a02c"/>
<text x="659.3" y="741.9" font-size="18.4">Missense</text>
</svg></body></html>
